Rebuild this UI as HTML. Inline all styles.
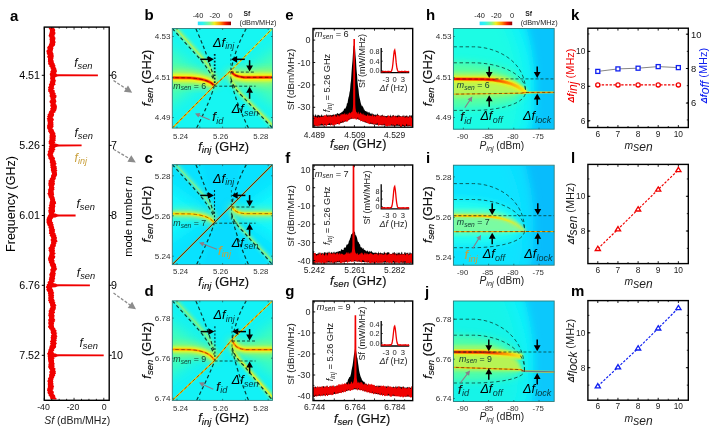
<!DOCTYPE html>
<html lang="en"><head><meta charset="utf-8"><title>Figure</title>
<style>
html,body{margin:0;padding:0;background:#fff;}
body{width:722px;height:438px;overflow:hidden;}
svg{display:block;font-family:'Liberation Sans', sans-serif;}
</style></head><body>
<svg width="722" height="438" viewBox="0 0 722 438">
<rect width="722" height="438" fill="#fff"/>
<text x="10.00" y="20.50" font-size="15" text-anchor="start" fill="#000" font-weight="bold" font-style="normal">a</text>
<polygon points="48.8,27.4 48.7,28.2 49.1,29.0 49.8,29.8 49.9,30.6 49.9,31.4 49.5,32.2 49.8,33.0 49.1,33.8 49.1,34.6 48.6,35.4 48.7,36.2 49.6,37.0 49.5,37.8 49.8,38.6 49.4,39.4 49.6,40.2 50.2,41.0 49.5,41.8 49.8,42.6 49.5,43.4 48.8,44.2 49.1,45.0 48.4,45.8 47.8,46.6 47.1,47.4 47.4,48.2 47.5,49.0 47.5,49.8 46.5,50.6 46.4,51.4 46.7,52.2 46.9,53.0 46.7,53.8 47.3,54.6 47.9,55.4 47.3,56.2 47.1,57.0 47.7,57.8 48.1,58.6 47.9,59.4 48.0,60.2 48.0,61.0 47.8,61.8 48.4,62.6 48.1,63.4 48.1,64.2 49.2,65.0 49.5,65.8 49.2,66.6 50.5,67.4 50.7,68.2 50.5,69.0 51.4,69.8 51.0,70.6 50.2,71.4 50.6,72.2 50.2,73.0 49.8,73.8 49.7,74.6 50.1,75.4 50.3,76.2 50.3,77.0 50.2,77.8 50.0,78.6 50.5,79.4 50.4,80.2 50.5,81.0 49.7,81.8 50.0,82.6 49.7,83.4 48.8,84.2 49.0,85.0 49.2,85.8 48.7,86.6 47.9,87.4 48.7,88.2 48.1,89.0 48.1,89.8 48.3,90.6 48.1,91.4 49.1,92.2 49.6,93.0 49.4,93.8 50.0,94.6 49.6,95.4 49.7,96.2 49.8,97.0 50.6,97.8 50.4,98.6 50.7,99.4 50.4,100.2 49.5,101.0 49.6,101.8 49.6,102.6 50.6,103.4 50.7,104.2 50.3,105.0 50.2,105.8 50.5,106.6 51.2,107.4 50.2,108.2 50.2,109.0 50.6,109.8 50.1,110.6 49.0,111.4 49.2,112.2 48.4,113.0 48.7,113.8 47.4,114.6 48.0,115.4 46.9,116.2 47.5,117.0 47.7,117.8 46.7,118.6 47.3,119.4 47.5,120.2 47.1,121.0 47.8,121.8 47.8,122.6 47.7,123.4 47.7,124.2 47.4,125.0 47.0,125.8 47.2,126.6 47.1,127.4 47.2,128.2 47.4,129.0 48.2,129.8 48.3,130.6 48.0,131.4 48.9,132.2 49.0,133.0 49.8,133.8 49.9,134.6 49.5,135.4 49.8,136.2 49.3,137.0 49.6,137.8 49.6,138.6 49.5,139.4 49.3,140.2 48.8,141.0 48.5,141.8 48.9,142.6 48.5,143.4 49.4,144.2 49.5,145.0 49.6,145.8 48.7,146.6 49.5,147.4 48.8,148.2 48.4,149.0 49.0,149.8 48.5,150.6 47.6,151.4 48.3,152.2 47.7,153.0 47.9,153.8 47.2,154.6 47.5,155.4 48.3,156.2 47.8,157.0 48.8,157.8 48.2,158.6 49.4,159.4 49.8,160.2 49.9,161.0 49.9,161.8 49.6,162.6 50.5,163.4 50.1,164.2 50.7,165.0 50.0,165.8 50.8,166.6 50.2,167.4 50.9,168.2 51.1,169.0 50.8,169.8 50.9,170.6 51.4,171.4 51.3,172.2 51.9,173.0 52.1,173.8 51.7,174.6 51.0,175.4 51.1,176.2 50.9,177.0 50.7,177.8 49.7,178.6 49.9,179.4 48.7,180.2 48.5,181.0 48.7,181.8 48.6,182.6 48.2,183.4 48.6,184.2 48.2,185.0 48.6,185.8 49.0,186.6 49.0,187.4 48.7,188.2 48.8,189.0 47.7,189.8 48.3,190.6 48.1,191.4 48.2,192.2 48.0,193.0 47.1,193.8 48.1,194.6 48.2,195.4 48.8,196.2 48.5,197.0 49.2,197.8 49.7,198.6 49.9,199.4 50.2,200.2 50.1,201.0 49.8,201.8 49.6,202.6 49.5,203.4 49.7,204.2 48.8,205.0 48.9,205.8 49.5,206.6 48.4,207.4 48.4,208.2 49.1,209.0 48.6,209.8 48.2,210.6 48.5,211.4 48.4,212.2 48.9,213.0 48.9,213.8 48.8,214.6 48.0,215.4 47.7,216.2 47.5,217.0 46.8,217.8 46.9,218.6 46.5,219.4 46.3,220.2 47.0,221.0 46.3,221.8 46.5,222.6 47.0,223.4 47.3,224.2 47.3,225.0 47.8,225.8 48.7,226.6 48.3,227.4 48.7,228.2 49.5,229.0 48.9,229.8 48.9,230.6 49.2,231.4 49.3,232.2 48.9,233.0 48.9,233.8 50.3,234.6 49.5,235.4 50.3,236.2 50.8,237.0 51.1,237.8 51.4,238.6 50.6,239.4 50.8,240.2 50.7,241.0 51.4,241.8 50.9,242.6 51.2,243.4 50.3,244.2 50.4,245.0 49.8,245.8 49.9,246.6 48.7,247.4 48.5,248.2 48.5,249.0 49.1,249.8 48.4,250.6 49.2,251.4 49.4,252.2 49.6,253.0 49.4,253.8 49.4,254.6 49.0,255.4 49.0,256.2 48.3,257.0 48.4,257.8 48.0,258.6 48.2,259.4 48.3,260.2 48.4,261.0 49.2,261.8 48.7,262.6 49.6,263.4 50.1,264.2 49.6,265.0 50.3,265.8 50.6,266.6 51.2,267.4 51.2,268.2 50.7,269.0 50.1,269.8 50.5,270.6 50.6,271.4 50.2,272.2 50.1,273.0 49.5,273.8 49.2,274.6 49.5,275.4 49.5,276.2 49.9,277.0 48.8,277.8 49.3,278.6 48.7,279.4 49.2,280.2 48.8,281.0 47.8,281.8 47.5,282.6 48.2,283.4 46.8,284.2 46.8,285.0 46.8,285.8 46.1,286.6 45.8,287.4 46.9,288.2 46.5,289.0 46.2,289.8 46.8,290.6 47.3,291.4 48.1,292.2 48.1,293.0 47.8,293.8 48.5,294.6 48.0,295.4 48.7,296.2 48.2,297.0 48.4,297.8 48.2,298.6 48.6,299.4 48.0,300.2 48.3,301.0 49.3,301.8 48.7,302.6 49.8,303.4 49.9,304.2 50.2,305.0 50.0,305.8 50.6,306.6 50.4,307.4 49.8,308.2 49.5,309.0 49.6,309.8 48.7,310.6 48.6,311.4 49.0,312.2 48.7,313.0 48.4,313.8 48.6,314.6 48.1,315.4 48.8,316.2 48.8,317.0 49.0,317.8 49.1,318.6 48.2,319.4 48.4,320.2 48.1,321.0 48.9,321.8 48.2,322.6 48.2,323.4 48.5,324.2 48.7,325.0 48.6,325.8 48.0,326.6 48.2,327.4 49.2,328.2 49.0,329.0 50.4,329.8 50.4,330.6 51.0,331.4 50.4,332.2 51.2,333.0 50.9,333.8 51.9,334.6 50.8,335.4 50.9,336.2 51.2,337.0 50.3,337.8 51.0,338.6 50.8,339.4 51.1,340.2 50.0,341.0 49.9,341.8 50.8,342.6 49.9,343.4 50.6,344.2 50.4,345.0 49.7,345.8 49.6,346.6 49.3,347.4 49.2,348.2 49.1,349.0 48.2,349.8 48.5,350.6 48.1,351.4 48.1,352.2 47.6,353.0 46.9,353.8 47.6,354.6 47.9,355.4 47.4,356.2 48.1,357.0 47.9,357.8 47.9,358.6 48.1,359.4 48.0,360.2 48.4,361.0 48.2,361.8 48.7,362.6 48.8,363.4 48.3,364.2 48.5,365.0 48.4,365.8 48.2,366.6 48.2,367.4 49.0,368.2 48.8,369.0 50.0,369.8 50.2,370.6 49.3,371.4 49.4,372.2 49.4,373.0 50.0,373.8 49.0,374.6 49.1,375.4 49.2,376.2 49.0,377.0 48.5,377.8 47.8,378.6 48.3,379.4 47.4,380.2 47.8,381.0 47.2,381.8 48.1,382.6 47.8,383.4 47.5,384.2 48.1,385.0 47.8,385.8 47.9,386.6 47.8,387.4 47.6,388.2 46.9,389.0 47.4,389.8 46.9,390.6 47.8,391.4 47.4,392.2 47.7,393.0 47.9,393.8 48.8,394.6 48.5,395.4 49.6,396.2 49.7,397.0 50.3,397.8 50.2,398.6 50.9,399.4 56.3,399.4 56.7,398.6 55.5,397.8 55.4,397.0 55.2,396.2 55.1,395.4 54.2,394.6 53.3,393.8 54.0,393.0 53.7,392.2 53.7,391.4 52.7,390.6 52.7,389.8 53.9,389.0 53.2,388.2 53.6,387.4 54.2,386.6 53.3,385.8 53.9,385.0 53.0,384.2 53.6,383.4 52.9,382.6 53.5,381.8 53.0,381.0 53.1,380.2 53.4,379.4 53.4,378.6 54.3,377.8 54.0,377.0 54.6,376.2 55.3,375.4 54.8,374.6 56.0,373.8 55.7,373.0 55.6,372.2 55.9,371.4 55.2,370.6 55.1,369.8 55.7,369.0 55.3,368.2 54.1,367.4 54.7,366.6 54.0,365.8 55.0,365.0 54.0,364.2 54.8,363.4 54.0,362.6 53.9,361.8 54.2,361.0 54.0,360.2 53.7,359.4 54.6,358.6 54.2,357.8 53.6,357.0 53.4,356.2 53.4,355.4 52.7,354.6 53.9,353.8 54.0,353.0 53.5,352.2 53.1,351.4 54.4,350.6 53.8,349.8 54.6,349.0 55.0,348.2 56.0,347.4 56.2,346.6 55.7,345.8 56.3,345.0 56.0,344.2 57.0,343.4 56.3,342.6 55.7,341.8 56.6,341.0 56.8,340.2 56.2,339.4 56.9,338.6 56.9,337.8 56.6,337.0 57.6,336.2 56.8,335.4 56.6,334.6 56.5,333.8 57.5,333.0 56.1,332.2 56.3,331.4 56.7,330.6 55.7,329.8 55.2,329.0 55.4,328.2 54.2,327.4 53.9,326.6 54.1,325.8 53.5,325.0 54.0,324.2 54.1,323.4 53.7,322.6 55.1,321.8 54.3,321.0 55.3,320.2 55.1,319.4 54.4,318.6 53.8,317.8 55.0,317.0 54.1,316.2 54.8,315.4 54.1,314.6 53.8,313.8 55.0,313.0 55.0,312.2 54.5,311.4 54.9,310.6 55.1,309.8 56.1,309.0 55.5,308.2 56.0,307.4 55.5,306.6 56.7,305.8 55.6,305.0 56.0,304.2 54.8,303.4 55.5,302.6 54.6,301.8 54.6,301.0 54.7,300.2 54.2,299.4 53.5,298.6 53.8,297.8 54.2,297.0 53.5,296.2 54.3,295.4 53.6,294.6 53.6,293.8 54.3,293.0 53.8,292.2 53.3,291.4 53.3,290.6 53.0,289.8 52.7,289.0 51.9,288.2 52.0,287.4 52.9,286.6 53.2,285.8 52.1,285.0 53.1,284.2 53.8,283.4 53.2,282.6 54.7,281.8 54.5,281.0 54.5,280.2 54.6,279.4 55.3,278.6 54.7,277.8 55.0,277.0 55.1,276.2 55.4,275.4 55.3,274.6 56.1,273.8 55.3,273.0 55.3,272.2 55.5,271.4 55.8,270.6 57.2,269.8 56.3,269.0 57.3,268.2 56.2,267.4 56.4,266.6 56.1,265.8 55.8,265.0 56.1,264.2 55.2,263.4 54.6,262.6 54.2,261.8 54.8,261.0 54.4,260.2 53.8,259.4 54.5,258.6 55.1,257.8 55.1,257.0 55.4,256.2 54.4,255.4 54.6,254.6 55.6,253.8 55.5,253.0 54.4,252.2 54.8,251.4 55.0,250.6 54.7,249.8 54.5,249.0 55.2,248.2 54.5,247.4 55.6,246.6 56.0,245.8 55.6,245.0 55.9,244.2 56.5,243.4 56.1,242.6 57.5,241.8 57.4,241.0 57.1,240.2 56.5,239.4 56.9,238.6 56.8,237.8 57.0,237.0 55.8,236.2 56.5,235.4 55.5,234.6 56.0,233.8 54.8,233.0 54.6,232.2 55.0,231.4 54.7,230.6 55.2,229.8 54.5,229.0 54.0,228.2 54.2,227.4 53.9,226.6 53.3,225.8 53.7,225.0 53.5,224.2 52.7,223.4 53.3,222.6 52.1,221.8 52.1,221.0 52.1,220.2 52.0,219.4 52.9,218.6 53.4,217.8 52.7,217.0 54.0,216.2 54.2,215.4 54.7,214.6 54.2,213.8 53.8,213.0 54.8,212.2 55.1,211.4 55.0,210.6 55.0,209.8 54.6,209.0 55.0,208.2 54.9,207.4 55.4,206.6 55.3,205.8 54.8,205.0 55.3,204.2 56.2,203.4 56.0,202.6 55.8,201.8 55.4,201.0 54.9,200.2 55.2,199.4 54.7,198.6 54.7,197.8 54.4,197.0 53.9,196.2 53.6,195.4 54.3,194.6 53.7,193.8 54.2,193.0 53.6,192.2 53.7,191.4 53.6,190.6 54.3,189.8 54.7,189.0 53.8,188.2 54.7,187.4 53.8,186.6 54.1,185.8 54.5,185.0 54.8,184.2 55.0,183.4 54.4,182.6 55.0,181.8 54.7,181.0 54.6,180.2 55.4,179.4 55.9,178.6 55.6,177.8 56.0,177.0 56.5,176.2 56.9,175.4 57.1,174.6 57.0,173.8 56.9,173.0 56.9,172.2 56.5,171.4 57.5,170.6 56.4,169.8 57.0,169.0 56.8,168.2 56.6,167.4 56.8,166.6 56.0,165.8 55.5,165.0 56.4,164.2 56.6,163.4 55.6,162.6 56.3,161.8 55.0,161.0 55.6,160.2 54.5,159.4 55.1,158.6 54.8,157.8 53.9,157.0 53.4,156.2 53.4,155.4 52.7,154.6 53.2,153.8 53.4,153.0 53.7,152.2 54.5,151.4 54.3,150.6 55.2,149.8 55.4,149.0 54.4,148.2 55.3,147.4 55.5,146.6 55.2,145.8 54.5,145.0 54.8,144.2 54.3,143.4 55.5,142.6 54.5,141.8 55.5,141.0 55.8,140.2 55.4,139.4 55.7,138.6 55.6,137.8 55.6,137.0 56.1,136.2 55.7,135.4 55.2,134.6 55.4,133.8 55.4,133.0 54.6,132.2 54.3,131.4 53.8,130.6 53.9,129.8 52.8,129.0 52.4,128.2 53.0,127.4 53.6,126.6 53.6,125.8 53.0,125.0 53.8,124.2 53.2,123.4 53.5,122.6 53.1,121.8 53.0,121.0 53.8,120.2 53.9,119.4 53.4,118.6 52.5,117.8 53.3,117.0 53.5,116.2 54.0,115.4 54.2,114.6 53.7,113.8 54.1,113.0 55.6,112.2 55.3,111.4 56.2,110.6 56.5,109.8 56.4,109.0 56.9,108.2 56.8,107.4 57.0,106.6 56.5,105.8 56.9,105.0 55.8,104.2 55.7,103.4 55.8,102.6 56.7,101.8 55.9,101.0 56.3,100.2 55.7,99.4 55.4,98.6 56.2,97.8 56.4,97.0 56.5,96.2 56.6,95.4 55.3,94.6 55.8,93.8 55.5,93.0 54.6,92.2 54.7,91.4 54.9,90.6 53.4,89.8 53.5,89.0 54.7,88.2 53.7,87.4 54.0,86.6 54.1,85.8 54.9,85.0 55.9,84.2 54.9,83.4 55.4,82.6 55.2,81.8 56.3,81.0 55.6,80.2 55.3,79.4 55.1,78.6 55.2,77.8 55.1,77.0 56.0,76.2 55.7,75.4 56.4,74.6 56.6,73.8 55.7,73.0 56.7,72.2 56.9,71.4 56.8,70.6 56.6,69.8 56.2,69.0 56.3,68.2 55.6,67.4 55.1,66.6 55.8,65.8 54.7,65.0 54.9,64.2 54.6,63.4 53.7,62.6 54.1,61.8 53.1,61.0 53.8,60.2 52.9,59.4 53.4,58.6 53.7,57.8 53.1,57.0 54.1,56.2 53.6,55.4 53.4,54.6 53.7,53.8 52.9,53.0 52.9,52.2 52.5,51.4 52.8,50.6 53.0,49.8 53.0,49.0 53.6,48.2 53.0,47.4 53.7,46.6 54.9,45.8 54.8,45.0 55.3,44.2 55.0,43.4 55.6,42.6 55.5,41.8 55.2,41.0 54.9,40.2 55.3,39.4 55.4,38.6 55.6,37.8 54.6,37.0 54.8,36.2 54.4,35.4 54.9,34.6 55.8,33.8 54.8,33.0 55.7,32.2 54.7,31.4 55.2,30.6 55.2,29.8 54.8,29.0 54.2,28.2 54.0,27.4" fill="#f00000"/>
<path d="M 52 73.10 L 55.5 73.40 Q 57 74.20 59 74.30 L 97.90 74.40 L 97.90 76.20 L 59 76.30 Q 57 76.40 55.5 77.20 L 52 77.50 Z" fill="#f00000" stroke="none" stroke-width="1"/>
<path d="M 52 143.20 L 55.5 143.50 Q 57 144.30 59 144.40 L 81.60 144.50 L 81.60 146.30 L 59 146.40 Q 57 146.50 55.5 147.30 L 52 147.60 Z" fill="#f00000" stroke="none" stroke-width="1"/>
<path d="M 52 213.30 L 55.5 213.60 Q 57 214.40 59 214.50 L 75.60 214.60 L 75.60 216.40 L 59 216.50 Q 57 216.60 55.5 217.40 L 52 217.70 Z" fill="#f00000" stroke="none" stroke-width="1"/>
<path d="M 52 283.10 L 55.5 283.40 Q 57 284.20 59 284.30 L 89.90 284.40 L 89.90 286.20 L 59 286.30 Q 57 286.40 55.5 287.20 L 52 287.50 Z" fill="#f00000" stroke="none" stroke-width="1"/>
<path d="M 52 353.10 L 55.5 353.40 Q 57 354.20 59 354.30 L 103.70 354.40 L 103.70 356.20 L 59 356.30 Q 57 356.40 55.5 357.20 L 52 357.50 Z" fill="#f00000" stroke="none" stroke-width="1"/>
<rect x="44.30" y="27.10" width="64.90" height="373.20" fill="none" stroke="#000" stroke-width="1.4"/>
<line x1="41.80" y1="75.30" x2="44.30" y2="75.30" stroke="#000" stroke-width="1"/>
<line x1="109.20" y1="75.30" x2="111.70" y2="75.30" stroke="#000" stroke-width="1"/>
<text x="40.00" y="79.10" font-size="10.7" text-anchor="end" fill="#000" font-weight="normal" font-style="normal">4.51</text>
<text x="111.00" y="79.10" font-size="10.7" text-anchor="start" fill="#000" font-weight="normal" font-style="normal">6</text>
<line x1="41.80" y1="145.40" x2="44.30" y2="145.40" stroke="#000" stroke-width="1"/>
<line x1="109.20" y1="145.40" x2="111.70" y2="145.40" stroke="#000" stroke-width="1"/>
<text x="40.00" y="149.20" font-size="10.7" text-anchor="end" fill="#000" font-weight="normal" font-style="normal">5.26</text>
<text x="111.00" y="149.20" font-size="10.7" text-anchor="start" fill="#000" font-weight="normal" font-style="normal">7</text>
<line x1="41.80" y1="215.50" x2="44.30" y2="215.50" stroke="#000" stroke-width="1"/>
<line x1="109.20" y1="215.50" x2="111.70" y2="215.50" stroke="#000" stroke-width="1"/>
<text x="40.00" y="219.30" font-size="10.7" text-anchor="end" fill="#000" font-weight="normal" font-style="normal">6.01</text>
<text x="111.00" y="219.30" font-size="10.7" text-anchor="start" fill="#000" font-weight="normal" font-style="normal">8</text>
<line x1="41.80" y1="285.30" x2="44.30" y2="285.30" stroke="#000" stroke-width="1"/>
<line x1="109.20" y1="285.30" x2="111.70" y2="285.30" stroke="#000" stroke-width="1"/>
<text x="40.00" y="289.10" font-size="10.7" text-anchor="end" fill="#000" font-weight="normal" font-style="normal">6.76</text>
<text x="111.00" y="289.10" font-size="10.7" text-anchor="start" fill="#000" font-weight="normal" font-style="normal">9</text>
<line x1="41.80" y1="355.30" x2="44.30" y2="355.30" stroke="#000" stroke-width="1"/>
<line x1="109.20" y1="355.30" x2="111.70" y2="355.30" stroke="#000" stroke-width="1"/>
<text x="40.00" y="359.10" font-size="10.7" text-anchor="end" fill="#000" font-weight="normal" font-style="normal">7.52</text>
<text x="111.00" y="359.10" font-size="10.7" text-anchor="start" fill="#000" font-weight="normal" font-style="normal">10</text>
<line x1="44.30" y1="400.30" x2="44.30" y2="397.80" stroke="#000" stroke-width="0.8"/>
<line x1="44.30" y1="27.10" x2="44.30" y2="29.60" stroke="#000" stroke-width="0.8"/>
<line x1="51.74" y1="400.30" x2="51.74" y2="398.80" stroke="#000" stroke-width="0.8"/>
<line x1="51.74" y1="27.10" x2="51.74" y2="28.60" stroke="#000" stroke-width="0.8"/>
<line x1="59.17" y1="400.30" x2="59.17" y2="398.80" stroke="#000" stroke-width="0.8"/>
<line x1="59.17" y1="27.10" x2="59.17" y2="28.60" stroke="#000" stroke-width="0.8"/>
<line x1="66.61" y1="400.30" x2="66.61" y2="398.80" stroke="#000" stroke-width="0.8"/>
<line x1="66.61" y1="27.10" x2="66.61" y2="28.60" stroke="#000" stroke-width="0.8"/>
<line x1="74.05" y1="400.30" x2="74.05" y2="397.80" stroke="#000" stroke-width="0.8"/>
<line x1="74.05" y1="27.10" x2="74.05" y2="29.60" stroke="#000" stroke-width="0.8"/>
<line x1="81.49" y1="400.30" x2="81.49" y2="398.80" stroke="#000" stroke-width="0.8"/>
<line x1="81.49" y1="27.10" x2="81.49" y2="28.60" stroke="#000" stroke-width="0.8"/>
<line x1="88.92" y1="400.30" x2="88.92" y2="398.80" stroke="#000" stroke-width="0.8"/>
<line x1="88.92" y1="27.10" x2="88.92" y2="28.60" stroke="#000" stroke-width="0.8"/>
<line x1="96.36" y1="400.30" x2="96.36" y2="398.80" stroke="#000" stroke-width="0.8"/>
<line x1="96.36" y1="27.10" x2="96.36" y2="28.60" stroke="#000" stroke-width="0.8"/>
<line x1="103.80" y1="400.30" x2="103.80" y2="397.80" stroke="#000" stroke-width="0.8"/>
<line x1="103.80" y1="27.10" x2="103.80" y2="29.60" stroke="#000" stroke-width="0.8"/>
<text x="43.50" y="410.20" font-size="8.8" text-anchor="middle" fill="#222" font-weight="normal" font-style="normal">-40</text>
<text x="73.00" y="410.20" font-size="8.8" text-anchor="middle" fill="#222" font-weight="normal" font-style="normal">-20</text>
<text x="104.20" y="410.20" font-size="8.8" text-anchor="middle" fill="#222" font-weight="normal" font-style="normal">0</text>
<text x="77.20" y="423.60" font-size="10.5" text-anchor="middle" fill="#222" font-weight="normal" font-style="normal"><tspan font-style="italic">Sf</tspan> (dBm/MHz)</text>
<text x="15.00" y="204.00" font-size="12.5" text-anchor="middle" fill="#000" font-weight="normal" font-style="normal" transform="rotate(-90 15.00 204.00)">Frequency (GHz)</text>
<text x="132.40" y="216.40" font-size="11.1" text-anchor="middle" fill="#000" font-weight="normal" font-style="normal" transform="rotate(-90 132.40 216.40)">mode number <tspan font-style="italic">m</tspan></text>
<text x="74.20" y="66.50" font-size="12" text-anchor="start" fill="#111" font-weight="normal" font-style="normal"><tspan font-style="italic">f</tspan><tspan font-style="italic" font-size="9.3" dy="2.4">sen</tspan></text>
<text x="74.50" y="136.80" font-size="12" text-anchor="start" fill="#111" font-weight="normal" font-style="normal"><tspan font-style="italic">f</tspan><tspan font-style="italic" font-size="9.3" dy="2.4">sen</tspan></text>
<text x="76.50" y="207.50" font-size="12" text-anchor="start" fill="#111" font-weight="normal" font-style="normal"><tspan font-style="italic">f</tspan><tspan font-style="italic" font-size="9.3" dy="2.4">sen</tspan></text>
<text x="76.80" y="276.50" font-size="12" text-anchor="start" fill="#111" font-weight="normal" font-style="normal"><tspan font-style="italic">f</tspan><tspan font-style="italic" font-size="9.3" dy="2.4">sen</tspan></text>
<text x="79.50" y="347.00" font-size="12" text-anchor="start" fill="#111" font-weight="normal" font-style="normal"><tspan font-style="italic">f</tspan><tspan font-style="italic" font-size="9.3" dy="2.4">sen</tspan></text>
<text x="74.60" y="161.50" font-size="12" text-anchor="start" fill="#c9a03c" font-weight="normal" font-style="normal"><tspan font-style="italic">f</tspan><tspan font-style="italic" font-size="9.0" dy="2.3">inj</tspan></text>
<line x1="113.50" y1="80.50" x2="126.35" y2="88.95" stroke="#8c8c8c" stroke-width="1.3" stroke-dasharray="3 1.6"/>
<polygon points="132.20,92.80 123.85,91.85 128.02,85.50" fill="#8c8c8c"/>
<line x1="113.50" y1="149.20" x2="129.78" y2="158.83" stroke="#8c8c8c" stroke-width="1.3" stroke-dasharray="3 1.6"/>
<polygon points="135.80,162.40 127.41,161.85 131.28,155.31" fill="#8c8c8c"/>
<line x1="113.50" y1="293.00" x2="130.33" y2="305.19" stroke="#8c8c8c" stroke-width="1.3" stroke-dasharray="3 1.6"/>
<polygon points="136.00,309.30 127.70,307.98 132.16,301.82" fill="#8c8c8c"/>
<defs>
<filter id="bl1" x="-50%" y="-50%" width="200%" height="200%"><feGaussianBlur stdDeviation="0.7"/></filter>
<filter id="bl2" x="-50%" y="-50%" width="200%" height="200%"><feGaussianBlur stdDeviation="1.8"/></filter>
<filter id="bl4" x="-50%" y="-50%" width="200%" height="200%"><feGaussianBlur stdDeviation="4"/></filter>
<filter id="bl8" x="-50%" y="-50%" width="200%" height="200%"><feGaussianBlur stdDeviation="8"/></filter>
<linearGradient id="cbar" x1="0" x2="1" y1="0" y2="0">
<stop offset="0" stop-color="#30e0ff"/><stop offset="0.15" stop-color="#30f4f0"/><stop offset="0.35" stop-color="#80f890"/>
<stop offset="0.5" stop-color="#f0f020"/><stop offset="0.68" stop-color="#ff9000"/><stop offset="0.85" stop-color="#f01000"/><stop offset="1" stop-color="#900000"/>
</linearGradient>
</defs>
<rect x="197.80" y="21.60" width="33.20" height="3.60" fill="url(#cbar)" stroke="none" stroke-width="1"/>
<text x="198.00" y="17.80" font-size="7.4" text-anchor="middle" fill="#222" font-weight="normal" font-style="normal">-40</text>
<text x="214.80" y="17.80" font-size="7.4" text-anchor="middle" fill="#222" font-weight="normal" font-style="normal">-20</text>
<text x="230.60" y="17.80" font-size="7.4" text-anchor="middle" fill="#222" font-weight="normal" font-style="normal">0</text>
<text x="243.40" y="16.00" font-size="6.8" text-anchor="start" fill="#222" font-weight="bold" font-style="normal">Sf</text>
<text x="239.60" y="24.90" font-size="7.3" text-anchor="start" fill="#222" font-weight="normal" font-style="normal">(dBm/MHz)</text>
<clipPath id="clip1"><rect x="172.3" y="28.5" width="100.19999999999999" height="99.6"/></clipPath>
<g clip-path="url(#clip1)">
<rect x="172.30" y="28.50" width="100.20" height="99.60" fill="#16f6f2" stroke="none" stroke-width="1"/>
<g filter="url(#bl8)" opacity="0.9">
<path d="M 147.3 35.44999999999999 L 208.2 77.44999999999999 L 147.3 119.44999999999999 Z" fill="#54ffa4" stroke="none" stroke-width="1"/>
<path d="M 297.5 35.44999999999999 L 236.8 77.44999999999999 L 297.5 119.44999999999999 Z" fill="#54ffa4" stroke="none" stroke-width="1"/>
</g>
<g filter="url(#bl2)">
<path d="M 175.8 28.5 L 202.60000000000002 58.0 Q 213.3 71.5 214.2 79.8" fill="none" stroke="#b8f850" stroke-width="4.5" opacity="0.65"/>
<path d="M 230.8 76.7 Q 233.3 86.7 243.4 96.4 L 274.0 126.6" fill="none" stroke="#b8f850" stroke-width="4.5" opacity="0.7"/>
</g>
<g filter="url(#bl1)">
<path d="M 175.8 28.5 L 202.60000000000002 58.0 Q 213.3 71.5 214.2 79.8" fill="none" stroke="#f0f020" stroke-width="1.4" opacity="0.4"/>
<path d="M 230.8 76.7 Q 233.3 86.7 243.4 96.4 L 274.0 126.6" fill="none" stroke="#f0f020" stroke-width="1.4" opacity="0.45"/>
</g>
<g filter="url(#bl4)" opacity="0.95">
<path d="M 169.3 77.6 L 190.2 77.89999999999999 Q 209.2 79.19999999999999 213.89999999999998 85.5" fill="none" stroke="#b8f850" stroke-width="14.0"/>
<path d="M 231.10000000000002 71.0 Q 233.3 76.5 243.8 77.3 L 275.5 77.3" fill="none" stroke="#b8f850" stroke-width="14.0"/>
</g>
<g filter="url(#bl2)">
<path d="M 169.3 77.6 L 190.2 77.89999999999999 Q 209.2 79.19999999999999 213.89999999999998 85.5" fill="none" stroke="#f8f418" stroke-width="7.5"/>
<path d="M 231.10000000000002 71.0 Q 233.3 76.5 243.8 77.3 L 275.5 77.3" fill="none" stroke="#f8f418" stroke-width="7.5"/>
</g>
<g filter="url(#bl1)">
<path d="M 169.3 77.6 L 190.2 77.89999999999999 Q 209.2 79.19999999999999 213.89999999999998 85.5" fill="none" stroke="#ff8a00" stroke-width="3.3"/>
<path d="M 231.10000000000002 71.0 Q 233.3 76.5 243.8 77.3 L 275.5 77.3" fill="none" stroke="#ff8a00" stroke-width="3.3"/>
<path d="M 169.3 77.6 L 190.2 77.89999999999999 Q 209.2 79.19999999999999 213.89999999999998 85.5" fill="none" stroke="#f01800" stroke-width="1.8"/>
<path d="M 231.10000000000002 71.0 Q 233.3 76.5 243.8 77.3 L 275.5 77.3" fill="none" stroke="#f01800" stroke-width="1.8"/>
</g>
<path d="M 169.3 77.6 L 190.2 77.89999999999999 Q 209.2 79.19999999999999 213.89999999999998 85.5" fill="none" stroke="#7a0000" stroke-width="1.0" stroke-dasharray="3.5 2.5" opacity="0.75"/>
<path d="M 231.10000000000002 71.0 Q 233.3 76.5 243.8 77.3 L 275.5 77.3" fill="none" stroke="#7a0000" stroke-width="1.0" stroke-dasharray="3.5 2.5" opacity="0.75"/>
<path d="M 172.3 128.1 L 214.2 85.8 L 230.8 70.7" fill="none" stroke="#e8e020" stroke-width="1.5"/>
<path d="M 172.3 128.1 L 214.2 85.8 L 230.8 70.7" fill="none" stroke="#f08a00" stroke-width="0.9"/>
<path d="M 230.8 70.7 L 272.5 28.5" fill="none" stroke="#d8f040" stroke-width="1.5"/>
<path d="M 230.8 70.7 L 272.5 28.5" fill="none" stroke="#e0d820" stroke-width="0.8"/>
<path d="M 172.3 128.1 L 214.2 85.8 L 230.8 70.7 L 272.5 28.5" fill="none" stroke="#4a3000" stroke-width="0.8" stroke-dasharray="3 2.6" opacity="0.8"/>
<path d="M 172.3 28.5 L 199.10000000000002 58.0 Q 210.3 71.5 213.7 79.8" fill="none" stroke="#062a24" stroke-width="1.2" stroke-dasharray="3.5 2.6" opacity="0.9"/>
<path d="M 231.10000000000002 78.7 Q 232.8 87.7 242.4 96.4 L 272.5 128.1" fill="none" stroke="#062a24" stroke-width="1.2" stroke-dasharray="3.5 2.6" opacity="0.9"/>
<path d="M 195.8 28.5 Q 208.3 56.5 213.79999999999998 77.8" fill="none" stroke="#062a24" stroke-width="1.2" stroke-dasharray="3.5 2.6" opacity="0.9"/>
<path d="M 196.60000000000002 128.1 Q 210.3 100.5 214.0 86.8" fill="none" stroke="#062a24" stroke-width="1.2" stroke-dasharray="3.5 2.6" opacity="0.9"/>
<path d="M 246.3 28.5 Q 235.3 48.7 231.10000000000002 69.7" fill="none" stroke="#062a24" stroke-width="1.2" stroke-dasharray="3.5 2.6" opacity="0.9"/>
<path d="M 248.5 128.1 Q 235.8 102.7 231.20000000000002 80.7" fill="none" stroke="#062a24" stroke-width="1.2" stroke-dasharray="3.5 2.6" opacity="0.9"/>
</g>
<line x1="214.70" y1="54.00" x2="214.70" y2="85.80" stroke="#062a30" stroke-width="1.7" stroke-dasharray="1.7 1.7"/>
<line x1="230.80" y1="54.00" x2="230.80" y2="86.70" stroke="#0a4a40" stroke-width="0.9" stroke-dasharray="2.5 2" opacity="0.8"/>
<line x1="230.80" y1="72.10" x2="255.60" y2="72.10" stroke="#0a3a30" stroke-width="0.9" stroke-dasharray="3 2"/>
<line x1="214.20" y1="86.20" x2="255.60" y2="86.20" stroke="#0a3a30" stroke-width="0.9" stroke-dasharray="3 2"/>
<line x1="200.20" y1="59.30" x2="208.40" y2="59.30" stroke="#000" stroke-width="1.5"/>
<polygon points="213.90,59.30 207.90,62.70 207.90,55.90" fill="#000"/>
<line x1="244.80" y1="59.30" x2="236.60" y2="59.30" stroke="#000" stroke-width="1.5"/>
<polygon points="231.10,59.30 237.10,55.90 237.10,62.70" fill="#000"/>
<line x1="249.60" y1="60.20" x2="249.60" y2="66.00" stroke="#000" stroke-width="1.5"/>
<polygon points="249.60,71.50 246.20,65.50 253.00,65.50" fill="#000"/>
<line x1="249.60" y1="98.80" x2="249.60" y2="92.30" stroke="#000" stroke-width="1.5"/>
<polygon points="249.60,86.80 253.00,92.80 246.20,92.80" fill="#000"/>
<rect x="172.30" y="28.50" width="100.20" height="99.60" fill="none" stroke="#2a7c7c" stroke-width="0.9"/>
<text x="213.10" y="46.50" font-size="12.6" text-anchor="start" fill="#000" font-weight="normal" font-style="normal"><tspan font-style="italic" >Δf</tspan><tspan font-style="italic" font-size="9.0" dx="0.3" dy="2.8" fill="#06383c">inj</tspan></text>
<text x="173.30" y="88.60" font-size="8.8" text-anchor="start" fill="#103830" font-weight="normal" font-style="normal"><tspan font-style="italic">m</tspan><tspan font-style="italic" font-size="6.6" dy="1.7">sen</tspan><tspan dy="-1.7"> = 6</tspan></text>
<text x="231.70" y="113.00" font-size="12.6" text-anchor="start" fill="#000" font-weight="normal" font-style="normal"><tspan font-style="italic" >Δf</tspan><tspan font-style="italic" font-size="9.0" dx="0.3" dy="2.8" fill="#06383c">sen</tspan></text>
<text x="212.30" y="121.00" font-size="13.0" text-anchor="start" fill="#111" font-weight="normal" font-style="normal"><tspan font-style="italic" stroke="#111" stroke-width="0.15">f</tspan><tspan font-style="italic" font-size="9.2" dx="0.3" dy="2.6" fill="#06383c">id</tspan></text>
<line x1="209.60" y1="119.80" x2="198.94" y2="115.13" stroke="#8a7f88" stroke-width="1.1"/>
<polygon points="195.00,113.40 200.40,113.04 198.39,117.62" fill="#8a7f88"/>
<text x="170.40" y="39.30" font-size="8.1" text-anchor="end" fill="#333" font-weight="normal" font-style="normal">4.53</text>
<line x1="172.30" y1="36.50" x2="173.80" y2="36.50" stroke="#1a5050" stroke-width="0.7"/>
<line x1="272.50" y1="36.50" x2="271.00" y2="36.50" stroke="#1a5050" stroke-width="0.7"/>
<text x="170.40" y="80.40" font-size="8.1" text-anchor="end" fill="#333" font-weight="normal" font-style="normal">4.51</text>
<line x1="172.30" y1="77.60" x2="173.80" y2="77.60" stroke="#1a5050" stroke-width="0.7"/>
<line x1="272.50" y1="77.60" x2="271.00" y2="77.60" stroke="#1a5050" stroke-width="0.7"/>
<text x="170.40" y="120.30" font-size="8.1" text-anchor="end" fill="#333" font-weight="normal" font-style="normal">4.49</text>
<line x1="172.30" y1="117.50" x2="173.80" y2="117.50" stroke="#1a5050" stroke-width="0.7"/>
<line x1="272.50" y1="117.50" x2="271.00" y2="117.50" stroke="#1a5050" stroke-width="0.7"/>
<text x="180.60" y="138.90" font-size="7.8" text-anchor="middle" fill="#333" font-weight="normal" font-style="normal">5.24</text>
<text x="220.70" y="138.90" font-size="7.8" text-anchor="middle" fill="#333" font-weight="normal" font-style="normal">5.26</text>
<text x="260.80" y="138.90" font-size="7.8" text-anchor="middle" fill="#333" font-weight="normal" font-style="normal">5.28</text>
<line x1="177.00" y1="128.10" x2="177.00" y2="126.60" stroke="#1a5050" stroke-width="0.7"/>
<line x1="177.00" y1="28.50" x2="177.00" y2="30.00" stroke="#1a5050" stroke-width="0.7"/>
<line x1="199.80" y1="128.10" x2="199.80" y2="126.60" stroke="#1a5050" stroke-width="0.7"/>
<line x1="199.80" y1="28.50" x2="199.80" y2="30.00" stroke="#1a5050" stroke-width="0.7"/>
<line x1="222.60" y1="128.10" x2="222.60" y2="126.60" stroke="#1a5050" stroke-width="0.7"/>
<line x1="222.60" y1="28.50" x2="222.60" y2="30.00" stroke="#1a5050" stroke-width="0.7"/>
<line x1="245.40" y1="128.10" x2="245.40" y2="126.60" stroke="#1a5050" stroke-width="0.7"/>
<line x1="245.40" y1="28.50" x2="245.40" y2="30.00" stroke="#1a5050" stroke-width="0.7"/>
<line x1="268.20" y1="128.10" x2="268.20" y2="126.60" stroke="#1a5050" stroke-width="0.7"/>
<line x1="268.20" y1="28.50" x2="268.20" y2="30.00" stroke="#1a5050" stroke-width="0.7"/>
<text x="223.70" y="150.60" font-size="12.8" text-anchor="middle" fill="#111" font-weight="normal" font-style="normal" stroke="#000" stroke-width="0.15"><tspan font-style="italic">f</tspan><tspan font-style="italic" font-size="9.6" dy="2.6">inj</tspan><tspan font-style="normal" dy="-2.6"> (GHz)</tspan></text>
<text x="150.60" y="78.00" font-size="12.8" text-anchor="middle" fill="#111" font-weight="normal" font-style="normal" transform="rotate(-90 150.60 78.00)" stroke="#000" stroke-width="0.15"><tspan font-style="italic">f</tspan><tspan font-style="italic" font-size="9.6" dy="2.6">sen</tspan><tspan font-style="normal" dy="-2.6"> (GHz)</tspan></text>
<text x="144.60" y="20.20" font-size="15" text-anchor="start" fill="#000" font-weight="bold" font-style="normal">b</text>
<clipPath id="clip2"><rect x="172.3" y="164.6" width="100.19999999999999" height="100.0"/></clipPath>
<g clip-path="url(#clip2)">
<rect x="172.30" y="164.60" width="100.20" height="100.00" fill="#08e2ff" stroke="none" stroke-width="1"/>
<g filter="url(#bl8)" opacity="0.9">
<path d="M 147.3 171.6 L 208.2 213.6 L 147.3 255.6 Z" fill="#14fcfc" stroke="none" stroke-width="1"/>
<path d="M 297.5 171.6 L 237.4 213.6 L 297.5 255.6 Z" fill="#14fcfc" stroke="none" stroke-width="1"/>
</g>
<g filter="url(#bl2)" opacity="0.16">
<path d="M 202.3 159.6 L 242.3 159.6 L 231.4 201.6 L 231.4 219.6 L 242.3 269.6 L 202.3 269.6 L 214.2 226.8 L 214.2 208.8 Z" fill="#10c0ff" stroke="none" stroke-width="1"/>
</g>
<g filter="url(#bl2)">
<path d="M 175.8 164.6 L 202.60000000000002 194.1 Q 213.3 207.6 214.2 216.8" fill="none" stroke="#78f8a0" stroke-width="4.5" opacity="0.65"/>
<path d="M 231.4 211.6 Q 233.9 221.6 244.0 231.29999999999998 L 274.0 263.1" fill="none" stroke="#78f8a0" stroke-width="4.5" opacity="0.7"/>
</g>
<g filter="url(#bl1)">
<path d="M 175.8 164.6 L 202.60000000000002 194.1 Q 213.3 207.6 214.2 216.8" fill="none" stroke="#c0f040" stroke-width="1.4" opacity="0.4"/>
<path d="M 231.4 211.6 Q 233.9 221.6 244.0 231.29999999999998 L 274.0 263.1" fill="none" stroke="#c0f040" stroke-width="1.4" opacity="0.45"/>
</g>
<g filter="url(#bl4)" opacity="0.95">
<path d="M 169.3 213.6 L 190.2 213.9 Q 209.2 215.2 213.89999999999998 222.5" fill="none" stroke="#78f8a0" stroke-width="8.68"/>
<path d="M 231.70000000000002 205.9 Q 233.9 212.79999999999998 244.4 213.6 L 275.5 213.6" fill="none" stroke="#78f8a0" stroke-width="8.68"/>
</g>
<g filter="url(#bl2)">
<path d="M 169.3 213.6 L 190.2 213.9 Q 209.2 215.2 213.89999999999998 222.5" fill="none" stroke="#c8f048" stroke-width="4.65"/>
<path d="M 231.70000000000002 205.9 Q 233.9 212.79999999999998 244.4 213.6 L 275.5 213.6" fill="none" stroke="#c8f048" stroke-width="4.65"/>
</g>
<g filter="url(#bl1)">
<path d="M 169.3 213.6 L 190.2 213.9 Q 209.2 215.2 213.89999999999998 222.5" fill="none" stroke="#f4ec10" stroke-width="2.046"/>
<path d="M 231.70000000000002 205.9 Q 233.9 212.79999999999998 244.4 213.6 L 275.5 213.6" fill="none" stroke="#f4ec10" stroke-width="2.046"/>
<path d="M 169.3 213.6 L 190.2 213.9 Q 209.2 215.2 213.89999999999998 222.5" fill="none" stroke="#ffc400" stroke-width="1.116"/>
<path d="M 231.70000000000002 205.9 Q 233.9 212.79999999999998 244.4 213.6 L 275.5 213.6" fill="none" stroke="#ffc400" stroke-width="1.116"/>
</g>
<path d="M 169.3 213.6 L 190.2 213.9 Q 209.2 215.2 213.89999999999998 222.5" fill="none" stroke="#806000" stroke-width="1.0" stroke-dasharray="3.5 2.5" opacity="0.75"/>
<path d="M 231.70000000000002 205.9 Q 233.9 212.79999999999998 244.4 213.6 L 275.5 213.6" fill="none" stroke="#806000" stroke-width="1.0" stroke-dasharray="3.5 2.5" opacity="0.75"/>
<path d="M 172.3 264.6 L 214.2 222.8 L 231.4 205.6 L 272.5 164.6" fill="none" stroke="#d8a030" stroke-width="1.5"/>
<path d="M 172.3 264.6 L 214.2 222.8 L 231.4 205.6 L 272.5 164.6" fill="none" stroke="#2a2420" stroke-width="0.9"/>
<path d="M 172.3 164.6 L 199.10000000000002 194.1 Q 210.3 207.6 213.7 216.8" fill="none" stroke="#062a24" stroke-width="1.2" stroke-dasharray="3.5 2.6" opacity="0.9"/>
<path d="M 231.70000000000002 213.6 Q 233.4 222.6 243.0 231.29999999999998 L 272.5 264.6" fill="none" stroke="#062a24" stroke-width="1.2" stroke-dasharray="3.5 2.6" opacity="0.9"/>
<path d="M 195.8 164.6 Q 208.3 192.6 213.79999999999998 214.8" fill="none" stroke="#062a24" stroke-width="1.2" stroke-dasharray="3.5 2.6" opacity="0.9"/>
<path d="M 196.60000000000002 264.6 Q 210.3 236.6 214.0 223.8" fill="none" stroke="#062a24" stroke-width="1.2" stroke-dasharray="3.5 2.6" opacity="0.9"/>
<path d="M 246.3 164.6 Q 235.9 183.6 231.70000000000002 204.6" fill="none" stroke="#062a24" stroke-width="1.2" stroke-dasharray="3.5 2.6" opacity="0.9"/>
<path d="M 248.5 264.6 Q 236.4 237.6 231.8 215.6" fill="none" stroke="#062a24" stroke-width="1.2" stroke-dasharray="3.5 2.6" opacity="0.9"/>
</g>
<line x1="214.50" y1="190.10" x2="214.50" y2="222.80" stroke="#062a30" stroke-width="1.1" stroke-dasharray="2 1.6"/>
<line x1="231.40" y1="190.10" x2="231.40" y2="221.60" stroke="#0a4a40" stroke-width="0.9" stroke-dasharray="2.5 2" opacity="0.8"/>
<line x1="231.40" y1="207.00" x2="255.60" y2="207.00" stroke="#0a3a30" stroke-width="0.9" stroke-dasharray="3 2"/>
<line x1="214.20" y1="223.20" x2="255.60" y2="223.20" stroke="#0a3a30" stroke-width="0.9" stroke-dasharray="3 2"/>
<line x1="200.20" y1="195.40" x2="208.40" y2="195.40" stroke="#000" stroke-width="1.5"/>
<polygon points="213.90,195.40 207.90,198.80 207.90,192.00" fill="#000"/>
<line x1="245.40" y1="195.40" x2="237.20" y2="195.40" stroke="#000" stroke-width="1.5"/>
<polygon points="231.70,195.40 237.70,192.00 237.70,198.80" fill="#000"/>
<line x1="249.60" y1="195.10" x2="249.60" y2="200.90" stroke="#000" stroke-width="1.5"/>
<polygon points="249.60,206.40 246.20,200.40 253.00,200.40" fill="#000"/>
<line x1="249.60" y1="235.80" x2="249.60" y2="229.30" stroke="#000" stroke-width="1.5"/>
<polygon points="249.60,223.80 253.00,229.80 246.20,229.80" fill="#000"/>
<rect x="172.30" y="164.60" width="100.20" height="100.00" fill="none" stroke="#2a7c7c" stroke-width="0.9"/>
<text x="213.10" y="182.60" font-size="12.6" text-anchor="start" fill="#000" font-weight="normal" font-style="normal"><tspan font-style="italic" >Δf</tspan><tspan font-style="italic" font-size="9.0" dx="0.3" dy="2.8" fill="#06383c">inj</tspan></text>
<text x="173.30" y="226.20" font-size="8.8" text-anchor="start" fill="#103830" font-weight="normal" font-style="normal"><tspan font-style="italic">m</tspan><tspan font-style="italic" font-size="6.6" dy="1.7">sen</tspan><tspan dy="-1.7"> = 7</tspan></text>
<text x="231.70" y="246.60" font-size="12.6" text-anchor="start" fill="#000" font-weight="normal" font-style="normal"><tspan font-style="italic" >Δf</tspan><tspan font-style="italic" font-size="9.0" dx="0.3" dy="2.8" fill="#06383c">sen</tspan></text>
<text x="217.90" y="254.80" font-size="13.0" text-anchor="start" fill="#c9a03c" font-weight="normal" font-style="normal"><tspan font-style="italic" stroke="#c9a03c" stroke-width="0.15">f</tspan><tspan font-style="italic" font-size="9.2" dx="0.3" dy="2.6" fill="#c9a03c">inj</tspan></text>
<line x1="217.00" y1="249.20" x2="203.04" y2="244.08" stroke="#8a7f88" stroke-width="1.1"/>
<polygon points="199.00,242.60 204.37,241.91 202.65,246.60" fill="#8a7f88"/>
<text x="170.40" y="178.60" font-size="8.1" text-anchor="end" fill="#333" font-weight="normal" font-style="normal">5.28</text>
<line x1="172.30" y1="175.80" x2="173.80" y2="175.80" stroke="#1a5050" stroke-width="0.7"/>
<line x1="272.50" y1="175.80" x2="271.00" y2="175.80" stroke="#1a5050" stroke-width="0.7"/>
<text x="170.40" y="218.60" font-size="8.1" text-anchor="end" fill="#333" font-weight="normal" font-style="normal">5.26</text>
<line x1="172.30" y1="215.80" x2="173.80" y2="215.80" stroke="#1a5050" stroke-width="0.7"/>
<line x1="272.50" y1="215.80" x2="271.00" y2="215.80" stroke="#1a5050" stroke-width="0.7"/>
<text x="170.40" y="259.00" font-size="8.1" text-anchor="end" fill="#333" font-weight="normal" font-style="normal">5.24</text>
<line x1="172.30" y1="256.20" x2="173.80" y2="256.20" stroke="#1a5050" stroke-width="0.7"/>
<line x1="272.50" y1="256.20" x2="271.00" y2="256.20" stroke="#1a5050" stroke-width="0.7"/>
<text x="180.60" y="274.40" font-size="7.8" text-anchor="middle" fill="#333" font-weight="normal" font-style="normal">5.24</text>
<text x="220.70" y="274.40" font-size="7.8" text-anchor="middle" fill="#333" font-weight="normal" font-style="normal">5.26</text>
<text x="260.80" y="274.40" font-size="7.8" text-anchor="middle" fill="#333" font-weight="normal" font-style="normal">5.28</text>
<line x1="177.00" y1="264.60" x2="177.00" y2="263.10" stroke="#1a5050" stroke-width="0.7"/>
<line x1="177.00" y1="164.60" x2="177.00" y2="166.10" stroke="#1a5050" stroke-width="0.7"/>
<line x1="199.80" y1="264.60" x2="199.80" y2="263.10" stroke="#1a5050" stroke-width="0.7"/>
<line x1="199.80" y1="164.60" x2="199.80" y2="166.10" stroke="#1a5050" stroke-width="0.7"/>
<line x1="222.60" y1="264.60" x2="222.60" y2="263.10" stroke="#1a5050" stroke-width="0.7"/>
<line x1="222.60" y1="164.60" x2="222.60" y2="166.10" stroke="#1a5050" stroke-width="0.7"/>
<line x1="245.40" y1="264.60" x2="245.40" y2="263.10" stroke="#1a5050" stroke-width="0.7"/>
<line x1="245.40" y1="164.60" x2="245.40" y2="166.10" stroke="#1a5050" stroke-width="0.7"/>
<line x1="268.20" y1="264.60" x2="268.20" y2="263.10" stroke="#1a5050" stroke-width="0.7"/>
<line x1="268.20" y1="164.60" x2="268.20" y2="166.10" stroke="#1a5050" stroke-width="0.7"/>
<text x="223.70" y="286.20" font-size="12.8" text-anchor="middle" fill="#111" font-weight="normal" font-style="normal" stroke="#000" stroke-width="0.15"><tspan font-style="italic">f</tspan><tspan font-style="italic" font-size="9.6" dy="2.6">inj</tspan><tspan font-style="normal" dy="-2.6"> (GHz)</tspan></text>
<text x="150.60" y="214.10" font-size="12.8" text-anchor="middle" fill="#111" font-weight="normal" font-style="normal" transform="rotate(-90 150.60 214.10)" stroke="#000" stroke-width="0.15"><tspan font-style="italic">f</tspan><tspan font-style="italic" font-size="9.6" dy="2.6">sen</tspan><tspan font-style="normal" dy="-2.6"> (GHz)</tspan></text>
<text x="144.60" y="163.00" font-size="15" text-anchor="start" fill="#000" font-weight="bold" font-style="normal">c</text>
<clipPath id="clip3"><rect x="172.3" y="300.8" width="100.19999999999999" height="99.6"/></clipPath>
<g clip-path="url(#clip3)">
<rect x="172.30" y="300.80" width="100.20" height="99.60" fill="#12f2f6" stroke="none" stroke-width="1"/>
<g filter="url(#bl8)" opacity="0.9">
<path d="M 147.3 307.5 L 208.6 349.5 L 147.3 391.5 Z" fill="#48ffb0" stroke="none" stroke-width="1"/>
<path d="M 297.5 307.5 L 238.0 349.5 L 297.5 391.5 Z" fill="#48ffb0" stroke="none" stroke-width="1"/>
</g>
<g filter="url(#bl2)">
<path d="M 175.8 300.8 L 202.60000000000002 330.3 Q 213.3 343.8 214.6 354.6" fill="none" stroke="#a8f858" stroke-width="4.5" opacity="0.5"/>
<path d="M 232.0 345.6 Q 234.5 355.6 244.6 365.3 L 274.0 398.9" fill="none" stroke="#a8f858" stroke-width="4.5" opacity="1"/>
</g>
<g filter="url(#bl1)">
<path d="M 175.8 300.8 L 202.60000000000002 330.3 Q 213.3 343.8 214.6 354.6" fill="none" stroke="#f0f020" stroke-width="1.4" opacity="0.25"/>
<path d="M 232.0 345.6 Q 234.5 355.6 244.6 365.3 L 274.0 398.9" fill="none" stroke="#f0f020" stroke-width="1.4" opacity="0.8"/>
</g>
<g filter="url(#bl4)" opacity="0.95">
<path d="M 169.3 349.4 L 190.6 349.7 Q 209.6 351.0 214.29999999999998 360.3" fill="none" stroke="#a8f858" stroke-width="9.799999999999999"/>
<path d="M 232.3 339.90000000000003 Q 234.5 348.8 245.0 349.6 L 275.5 349.6" fill="none" stroke="#a8f858" stroke-width="9.799999999999999"/>
</g>
<g filter="url(#bl2)">
<path d="M 169.3 349.4 L 190.6 349.7 Q 209.6 351.0 214.29999999999998 360.3" fill="none" stroke="#f8f418" stroke-width="5.25"/>
<path d="M 232.3 339.90000000000003 Q 234.5 348.8 245.0 349.6 L 275.5 349.6" fill="none" stroke="#f8f418" stroke-width="5.25"/>
</g>
<g filter="url(#bl1)">
<path d="M 169.3 349.4 L 190.6 349.7 Q 209.6 351.0 214.29999999999998 360.3" fill="none" stroke="#ffc000" stroke-width="2.3099999999999996"/>
<path d="M 232.3 339.90000000000003 Q 234.5 348.8 245.0 349.6 L 275.5 349.6" fill="none" stroke="#ffc000" stroke-width="2.3099999999999996"/>
<path d="M 169.3 349.4 L 190.6 349.7 Q 209.6 351.0 214.29999999999998 360.3" fill="none" stroke="#ff8000" stroke-width="1.26"/>
<path d="M 232.3 339.90000000000003 Q 234.5 348.8 245.0 349.6 L 275.5 349.6" fill="none" stroke="#ff8000" stroke-width="1.26"/>
</g>
<path d="M 169.3 349.4 L 190.6 349.7 Q 209.6 351.0 214.29999999999998 360.3" fill="none" stroke="#804000" stroke-width="1.0" stroke-dasharray="3.5 2.5" opacity="0.75"/>
<path d="M 232.3 339.90000000000003 Q 234.5 348.8 245.0 349.6 L 275.5 349.6" fill="none" stroke="#804000" stroke-width="1.0" stroke-dasharray="3.5 2.5" opacity="0.75"/>
<path d="M 172.3 400.4 L 214.6 360.6 L 232.0 339.6" fill="none" stroke="#e8e020" stroke-width="1.5"/>
<path d="M 172.3 400.4 L 214.6 360.6 L 232.0 339.6" fill="none" stroke="#f08a00" stroke-width="0.9"/>
<path d="M 232.0 339.6 L 272.5 300.8" fill="none" stroke="#f0e020" stroke-width="1.5"/>
<path d="M 232.0 339.6 L 272.5 300.8" fill="none" stroke="#f0a000" stroke-width="0.8"/>
<path d="M 172.3 400.4 L 214.6 360.6 L 232.0 339.6 L 272.5 300.8" fill="none" stroke="#4a3000" stroke-width="0.8" stroke-dasharray="3 2.6" opacity="0.8"/>
<path d="M 172.3 300.8 L 199.10000000000002 330.3 Q 210.3 343.8 214.1 354.6" fill="none" stroke="#062a24" stroke-width="1.2" stroke-dasharray="3.5 2.6" opacity="0.9"/>
<path d="M 232.3 347.6 Q 234.0 356.6 243.6 365.3 L 272.5 400.4" fill="none" stroke="#062a24" stroke-width="1.2" stroke-dasharray="3.5 2.6" opacity="0.9"/>
<path d="M 195.8 300.8 Q 208.3 328.8 214.2 352.6" fill="none" stroke="#062a24" stroke-width="1.2" stroke-dasharray="3.5 2.6" opacity="0.9"/>
<path d="M 196.60000000000002 400.4 Q 210.3 372.8 214.4 361.6" fill="none" stroke="#062a24" stroke-width="1.2" stroke-dasharray="3.5 2.6" opacity="0.9"/>
<path d="M 246.3 300.8 Q 236.5 317.6 232.3 338.6" fill="none" stroke="#062a24" stroke-width="1.2" stroke-dasharray="3.5 2.6" opacity="0.9"/>
<path d="M 248.5 400.4 Q 237.0 371.6 232.4 349.6" fill="none" stroke="#062a24" stroke-width="1.2" stroke-dasharray="3.5 2.6" opacity="0.9"/>
</g>
<line x1="214.90" y1="326.30" x2="214.90" y2="360.60" stroke="#062a30" stroke-width="1.1" stroke-dasharray="2 1.6"/>
<line x1="232.00" y1="326.30" x2="232.00" y2="355.60" stroke="#0a4a40" stroke-width="0.9" stroke-dasharray="2.5 2" opacity="0.8"/>
<line x1="232.00" y1="341.00" x2="255.60" y2="341.00" stroke="#0a3a30" stroke-width="0.9" stroke-dasharray="3 2"/>
<line x1="214.60" y1="361.00" x2="255.60" y2="361.00" stroke="#0a3a30" stroke-width="0.9" stroke-dasharray="3 2"/>
<line x1="200.60" y1="331.60" x2="208.80" y2="331.60" stroke="#000" stroke-width="1.5"/>
<polygon points="214.30,331.60 208.30,335.00 208.30,328.20" fill="#000"/>
<line x1="246.00" y1="331.60" x2="237.80" y2="331.60" stroke="#000" stroke-width="1.5"/>
<polygon points="232.30,331.60 238.30,328.20 238.30,335.00" fill="#000"/>
<line x1="249.60" y1="329.10" x2="249.60" y2="334.90" stroke="#000" stroke-width="1.5"/>
<polygon points="249.60,340.40 246.20,334.40 253.00,334.40" fill="#000"/>
<line x1="249.60" y1="373.60" x2="249.60" y2="367.10" stroke="#000" stroke-width="1.5"/>
<polygon points="249.60,361.60 253.00,367.60 246.20,367.60" fill="#000"/>
<rect x="172.30" y="300.80" width="100.20" height="99.60" fill="none" stroke="#2a7c7c" stroke-width="0.9"/>
<text x="213.50" y="318.80" font-size="12.6" text-anchor="start" fill="#000" font-weight="normal" font-style="normal"><tspan font-style="italic" >Δf</tspan><tspan font-style="italic" font-size="9.0" dx="0.3" dy="2.8" fill="#06383c">inj</tspan></text>
<text x="173.30" y="361.80" font-size="8.8" text-anchor="start" fill="#103830" font-weight="normal" font-style="normal"><tspan font-style="italic">m</tspan><tspan font-style="italic" font-size="6.6" dy="1.7">sen</tspan><tspan dy="-1.7"> = 9</tspan></text>
<text x="231.70" y="383.90" font-size="12.6" text-anchor="start" fill="#000" font-weight="normal" font-style="normal"><tspan font-style="italic" >Δf</tspan><tspan font-style="italic" font-size="9.0" dx="0.3" dy="2.8" fill="#06383c">sen</tspan></text>
<text x="216.30" y="390.50" font-size="13.0" text-anchor="start" fill="#111" font-weight="normal" font-style="normal"><tspan font-style="italic" stroke="#111" stroke-width="0.15">f</tspan><tspan font-style="italic" font-size="9.2" dx="0.3" dy="2.6" fill="#06383c">id</tspan></text>
<line x1="213.30" y1="389.30" x2="202.89" y2="384.42" stroke="#8a7f88" stroke-width="1.1"/>
<polygon points="199.00,382.60 204.41,382.37 202.29,386.90" fill="#8a7f88"/>
<text x="170.40" y="320.90" font-size="8.1" text-anchor="end" fill="#333" font-weight="normal" font-style="normal">6.78</text>
<line x1="172.30" y1="318.10" x2="173.80" y2="318.10" stroke="#1a5050" stroke-width="0.7"/>
<line x1="272.50" y1="318.10" x2="271.00" y2="318.10" stroke="#1a5050" stroke-width="0.7"/>
<text x="170.40" y="361.00" font-size="8.1" text-anchor="end" fill="#333" font-weight="normal" font-style="normal">6.76</text>
<line x1="172.30" y1="358.20" x2="173.80" y2="358.20" stroke="#1a5050" stroke-width="0.7"/>
<line x1="272.50" y1="358.20" x2="271.00" y2="358.20" stroke="#1a5050" stroke-width="0.7"/>
<text x="170.40" y="401.10" font-size="8.1" text-anchor="end" fill="#333" font-weight="normal" font-style="normal">6.74</text>
<line x1="172.30" y1="398.30" x2="173.80" y2="398.30" stroke="#1a5050" stroke-width="0.7"/>
<line x1="272.50" y1="398.30" x2="271.00" y2="398.30" stroke="#1a5050" stroke-width="0.7"/>
<text x="180.60" y="410.60" font-size="7.8" text-anchor="middle" fill="#333" font-weight="normal" font-style="normal">5.24</text>
<text x="220.70" y="410.60" font-size="7.8" text-anchor="middle" fill="#333" font-weight="normal" font-style="normal">5.26</text>
<text x="260.80" y="410.60" font-size="7.8" text-anchor="middle" fill="#333" font-weight="normal" font-style="normal">5.28</text>
<line x1="177.00" y1="400.40" x2="177.00" y2="398.90" stroke="#1a5050" stroke-width="0.7"/>
<line x1="177.00" y1="300.80" x2="177.00" y2="302.30" stroke="#1a5050" stroke-width="0.7"/>
<line x1="199.80" y1="400.40" x2="199.80" y2="398.90" stroke="#1a5050" stroke-width="0.7"/>
<line x1="199.80" y1="300.80" x2="199.80" y2="302.30" stroke="#1a5050" stroke-width="0.7"/>
<line x1="222.60" y1="400.40" x2="222.60" y2="398.90" stroke="#1a5050" stroke-width="0.7"/>
<line x1="222.60" y1="300.80" x2="222.60" y2="302.30" stroke="#1a5050" stroke-width="0.7"/>
<line x1="245.40" y1="400.40" x2="245.40" y2="398.90" stroke="#1a5050" stroke-width="0.7"/>
<line x1="245.40" y1="300.80" x2="245.40" y2="302.30" stroke="#1a5050" stroke-width="0.7"/>
<line x1="268.20" y1="400.40" x2="268.20" y2="398.90" stroke="#1a5050" stroke-width="0.7"/>
<line x1="268.20" y1="300.80" x2="268.20" y2="302.30" stroke="#1a5050" stroke-width="0.7"/>
<text x="223.70" y="422.40" font-size="12.8" text-anchor="middle" fill="#111" font-weight="normal" font-style="normal" stroke="#000" stroke-width="0.15"><tspan font-style="italic">f</tspan><tspan font-style="italic" font-size="9.6" dy="2.6">inj</tspan><tspan font-style="normal" dy="-2.6"> (GHz)</tspan></text>
<text x="150.60" y="350.30" font-size="12.8" text-anchor="middle" fill="#111" font-weight="normal" font-style="normal" transform="rotate(-90 150.60 350.30)" stroke="#000" stroke-width="0.15"><tspan font-style="italic">f</tspan><tspan font-style="italic" font-size="9.6" dy="2.6">sen</tspan><tspan font-style="normal" dy="-2.6"> (GHz)</tspan></text>
<text x="144.60" y="296.20" font-size="15" text-anchor="start" fill="#000" font-weight="bold" font-style="normal">d</text>
<clipPath id="clipse"><rect x="313.0" y="28.5" width="99.69999999999999" height="98.7"/></clipPath>
<g clip-path="url(#clipse)">
<polygon points="313.0,115.0 313.5,114.3 314.0,116.5 314.5,116.5 315.0,114.4 315.5,114.2 316.0,115.9 316.5,116.5 317.0,114.4 317.5,116.1 318.0,114.5 318.5,115.5 319.0,114.8 319.5,116.3 320.0,114.9 320.5,116.2 321.0,115.9 321.5,114.6 322.0,114.6 322.5,116.2 323.0,116.1 323.5,115.8 324.0,115.6 324.5,115.8 325.0,116.1 325.5,116.0 326.0,114.8 326.5,114.1 327.0,116.0 327.5,115.2 328.0,114.6 328.5,115.9 329.0,114.2 329.5,115.8 330.0,114.9 330.5,115.0 331.0,114.7 331.5,115.4 332.0,115.1 332.5,114.7 333.0,115.0 333.5,114.3 334.0,114.8 334.5,114.7 335.0,115.1 335.5,114.0 336.0,114.3 336.5,114.6 337.0,113.2 337.5,113.0 338.0,113.8 338.5,114.1 339.0,113.4 339.5,113.7 340.0,113.5 340.5,112.8 341.0,113.0 341.5,112.2 342.0,111.7 342.5,112.0 343.0,110.6 343.5,111.1 344.0,109.3 344.5,108.5 345.0,108.6 345.5,108.4 346.0,106.9 346.5,106.1 347.0,103.0 347.5,103.6 348.0,100.1 348.5,97.4 349.0,95.9 349.5,92.6 350.0,90.5 350.5,83.9 351.0,80.4 351.5,72.7 352.0,66.1 352.5,60.8 353.0,52.4 353.5,46.2 354.0,45.3 354.5,45.3 355.0,47.9 355.5,55.1 356.0,60.4 356.5,69.3 357.0,74.6 357.5,82.1 358.0,86.5 358.5,89.3 359.0,94.7 359.5,97.6 360.0,99.6 360.5,102.0 361.0,103.9 361.5,105.3 362.0,106.6 362.5,105.6 363.0,107.5 363.5,107.5 364.0,110.0 364.5,109.2 365.0,111.2 365.5,111.0 366.0,111.1 366.5,112.1 367.0,110.9 367.5,112.3 368.0,112.5 368.5,111.7 369.0,113.8 369.5,111.6 370.0,113.2 370.5,114.0 371.0,113.0 371.5,114.4 372.0,112.4 372.5,114.1 373.0,114.7 373.5,113.7 374.0,114.7 374.5,115.2 375.0,114.0 375.5,115.4 376.0,113.9 376.5,115.4 377.0,114.6 377.5,113.3 378.0,114.9 378.5,114.7 379.0,115.6 379.5,115.9 380.0,115.9 380.5,115.9 381.0,115.1 381.5,115.6 382.0,115.4 382.5,114.2 383.0,116.1 383.5,116.0 384.0,115.2 384.5,116.2 385.0,116.2 385.5,116.0 386.0,116.3 386.5,116.0 387.0,116.2 387.5,115.5 388.0,115.5 388.5,116.3 389.0,115.5 389.5,115.9 390.0,116.4 390.5,114.3 391.0,116.3 391.5,116.4 392.0,116.5 392.5,115.5 393.0,114.7 393.5,115.1 394.0,116.1 394.5,116.4 395.0,116.6 395.5,115.6 396.0,115.8 396.5,116.3 397.0,115.6 397.5,116.1 398.0,114.5 398.5,115.3 399.0,116.5 399.5,114.7 400.0,116.6 400.5,116.0 401.0,116.3 401.5,116.5 402.0,116.7 402.5,115.2 403.0,116.7 403.5,116.0 404.0,114.6 404.5,116.7 405.0,116.6 405.5,115.8 406.0,116.1 406.5,115.7 407.0,115.1 407.5,116.7 408.0,116.5 408.5,116.5 409.0,116.7 409.5,114.9 410.0,115.3 410.5,115.5 411.0,116.8 411.5,115.1 412.0,115.4 412.5,116.3 412.5,126.0 412.0,126.0 411.5,126.0 411.0,126.0 410.5,126.0 410.0,126.0 409.5,126.0 409.0,126.0 408.5,126.0 408.0,126.0 407.5,126.0 407.0,126.0 406.5,126.0 406.0,126.0 405.5,125.9 405.0,125.9 404.5,125.9 404.0,125.9 403.5,125.9 403.0,125.9 402.5,125.9 402.0,125.9 401.5,125.9 401.0,125.9 400.5,125.9 400.0,125.9 399.5,125.9 399.0,125.8 398.5,125.8 398.0,125.8 397.5,125.8 397.0,125.8 396.5,125.8 396.0,125.8 395.5,125.8 395.0,125.8 394.5,125.7 394.0,125.7 393.5,125.7 393.0,125.7 392.5,125.7 392.0,125.7 391.5,125.7 391.0,125.6 390.5,125.6 390.0,125.6 389.5,125.6 389.0,125.6 388.5,125.6 388.0,125.5 387.5,125.5 387.0,125.5 386.5,125.5 386.0,125.4 385.5,125.4 385.0,125.4 384.5,125.4 384.0,125.3 383.5,125.3 383.0,125.3 382.5,125.2 382.0,125.2 381.5,125.2 381.0,125.1 380.5,125.1 380.0,125.1 379.5,125.0 379.0,125.0 378.5,124.9 378.0,124.9 377.5,124.8 377.0,124.8 376.5,124.7 376.0,124.7 375.5,124.6 375.0,124.6 374.5,124.5 374.0,124.4 373.5,124.3 373.0,124.3 372.5,124.2 372.0,124.1 371.5,124.0 371.0,123.9 370.5,123.8 370.0,123.7 369.5,123.6 369.0,123.5 368.5,123.3 368.0,123.2 367.5,123.1 367.0,122.9 366.5,122.7 366.0,122.6 365.5,122.4 365.0,122.2 364.5,122.0 364.0,121.8 363.5,121.6 363.0,121.4 362.5,121.2 362.0,121.0 361.5,120.7 361.0,120.5 360.5,120.3 360.0,120.0 359.5,119.8 359.0,119.6 358.5,119.4 358.0,119.2 357.5,119.0 357.0,118.8 356.5,118.6 356.0,118.5 355.5,118.4 355.0,118.3 354.5,118.3 354.0,118.3 353.5,118.3 353.0,118.4 352.5,118.5 352.0,118.6 351.5,118.8 351.0,118.9 350.5,119.1 350.0,119.3 349.5,119.5 349.0,119.8 348.5,120.0 348.0,120.2 347.5,120.5 347.0,120.7 346.5,120.9 346.0,121.2 345.5,121.4 345.0,121.6 344.5,121.8 344.0,122.0 343.5,122.2 343.0,122.4 342.5,122.5 342.0,122.7 341.5,122.9 341.0,123.0 340.5,123.2 340.0,123.3 339.5,123.4 339.0,123.6 338.5,123.7 338.0,123.8 337.5,123.9 337.0,124.0 336.5,124.1 336.0,124.2 335.5,124.2 335.0,124.3 334.5,124.4 334.0,124.5 333.5,124.5 333.0,124.6 332.5,124.7 332.0,124.7 331.5,124.8 331.0,124.8 330.5,124.9 330.0,124.9 329.5,125.0 329.0,125.0 328.5,125.1 328.0,125.1 327.5,125.1 327.0,125.2 326.5,125.2 326.0,125.2 325.5,125.3 325.0,125.3 324.5,125.3 324.0,125.4 323.5,125.4 323.0,125.4 322.5,125.4 322.0,125.5 321.5,125.5 321.0,125.5 320.5,125.5 320.0,125.5 319.5,125.6 319.0,125.6 318.5,125.6 318.0,125.6 317.5,125.6 317.0,125.7 316.5,125.7 316.0,125.7 315.5,125.7 315.0,125.7 314.5,125.7 314.0,125.7 313.5,125.8 313.0,125.8" fill="#000"/>
<polygon points="313.0,117.4 313.5,115.9 314.0,115.9 314.5,116.2 315.0,117.2 315.5,117.3 316.0,116.8 316.5,117.5 317.0,115.9 317.5,118.0 318.0,117.8 318.5,115.9 319.0,117.3 319.5,117.3 320.0,117.7 320.5,115.8 321.0,116.9 321.5,117.0 322.0,116.4 322.5,117.1 323.0,116.3 323.5,116.7 324.0,115.6 324.5,115.2 325.0,115.4 325.5,115.2 326.0,115.9 326.5,115.0 327.0,116.9 327.5,116.9 328.0,115.0 328.5,115.9 329.0,117.2 329.5,114.9 330.0,117.5 330.5,115.0 331.0,115.0 331.5,117.2 332.0,116.5 332.5,116.5 333.0,114.8 333.5,116.8 334.0,115.4 334.5,114.5 335.0,115.2 335.5,115.4 336.0,117.2 336.5,116.8 337.0,114.3 337.5,115.4 338.0,115.1 338.5,115.6 339.0,116.5 339.5,116.3 340.0,113.8 340.5,116.0 341.0,113.6 341.5,115.0 342.0,114.0 342.5,114.4 343.0,114.0 343.5,114.0 344.0,115.1 344.5,113.2 345.0,113.0 345.5,114.8 346.0,114.4 346.5,113.6 347.0,115.0 347.5,114.8 348.0,112.6 348.5,114.6 349.0,112.9 349.5,112.3 350.0,113.1 350.5,113.6 351.0,112.3 351.5,111.6 352.0,113.1 352.5,111.5 353.0,113.3 353.5,111.3 354.0,113.6 354.5,111.5 355.0,113.0 355.5,111.4 356.0,111.8 356.5,112.7 357.0,112.2 357.5,114.2 358.0,111.7 358.5,111.8 359.0,114.6 359.5,114.0 360.0,112.5 360.5,112.4 361.0,113.3 361.5,113.5 362.0,114.5 362.5,114.5 363.0,113.1 363.5,114.0 364.0,115.7 364.5,114.8 365.0,114.4 365.5,115.4 366.0,115.7 366.5,116.0 367.0,115.5 367.5,114.6 368.0,114.0 368.5,116.1 369.0,115.8 369.5,115.2 370.0,115.9 370.5,116.1 371.0,114.7 371.5,116.5 372.0,115.7 372.5,114.4 373.0,114.8 373.5,117.2 374.0,114.7 374.5,116.1 375.0,116.0 375.5,117.0 376.0,115.8 376.5,115.2 377.0,115.8 377.5,115.0 378.0,115.8 378.5,115.5 379.0,114.8 379.5,116.0 380.0,115.8 380.5,115.5 381.0,117.7 381.5,115.5 382.0,116.1 382.5,115.3 383.0,117.3 383.5,116.3 384.0,115.6 384.5,116.0 385.0,117.4 385.5,116.4 386.0,116.7 386.5,117.5 387.0,117.6 387.5,116.2 388.0,116.3 388.5,115.1 389.0,115.9 389.5,116.0 390.0,116.4 390.5,117.1 391.0,117.9 391.5,115.3 392.0,117.9 392.5,115.6 393.0,117.1 393.5,115.2 394.0,117.1 394.5,115.5 395.0,115.9 395.5,116.2 396.0,117.9 396.5,115.7 397.0,117.0 397.5,117.2 398.0,117.6 398.5,115.8 399.0,116.8 399.5,116.6 400.0,116.9 400.5,116.0 401.0,116.7 401.5,116.7 402.0,116.7 402.5,116.9 403.0,115.3 403.5,116.7 404.0,117.3 404.5,116.4 405.0,118.2 405.5,117.2 406.0,115.4 406.5,117.4 407.0,116.3 407.5,116.8 408.0,118.0 408.5,117.5 409.0,116.3 409.5,116.4 410.0,116.9 410.5,116.0 411.0,116.6 411.5,117.8 412.0,117.8 412.5,116.9 412.5,126.9 412.0,126.6 411.5,126.8 411.0,126.1 410.5,126.5 410.0,125.1 409.5,126.3 409.0,124.6 408.5,125.8 408.0,127.1 407.5,126.3 407.0,123.8 406.5,124.1 406.0,125.8 405.5,125.7 405.0,127.0 404.5,126.4 404.0,124.6 403.5,125.9 403.0,124.6 402.5,124.5 402.0,126.2 401.5,126.9 401.0,127.0 400.5,126.9 400.0,126.7 399.5,124.3 399.0,125.1 398.5,125.3 398.0,124.5 397.5,124.2 397.0,124.8 396.5,124.2 396.0,124.8 395.5,126.8 395.0,124.8 394.5,126.8 394.0,126.6 393.5,123.7 393.0,126.8 392.5,124.4 392.0,124.7 391.5,124.4 391.0,124.3 390.5,126.3 390.0,125.3 389.5,125.9 389.0,126.5 388.5,124.9 388.0,126.5 387.5,126.4 387.0,126.3 386.5,126.1 386.0,126.5 385.5,126.2 385.0,124.2 384.5,125.1 384.0,123.3 383.5,125.3 383.0,125.0 382.5,124.3 382.0,126.2 381.5,124.1 381.0,125.3 380.5,124.3 380.0,125.9 379.5,124.5 379.0,125.5 378.5,125.5 378.0,126.0 377.5,122.6 377.0,123.9 376.5,124.2 376.0,122.7 375.5,124.8 375.0,124.3 374.5,123.8 374.0,124.4 373.5,124.5 373.0,123.3 372.5,124.3 372.0,122.0 371.5,124.6 371.0,123.5 370.5,122.0 370.0,124.2 369.5,124.0 369.0,124.3 368.5,122.7 368.0,123.7 367.5,122.8 367.0,123.3 366.5,122.3 366.0,122.0 365.5,120.9 365.0,123.1 364.5,121.2 364.0,122.3 363.5,120.9 363.0,121.3 362.5,121.6 362.0,121.2 361.5,119.7 361.0,121.6 360.5,121.2 360.0,119.8 359.5,120.3 359.0,118.5 358.5,120.0 358.0,117.1 357.5,118.3 357.0,119.8 356.5,119.6 356.0,119.2 355.5,119.4 355.0,117.0 354.5,119.1 354.0,119.2 353.5,118.7 353.0,118.4 352.5,118.9 352.0,117.8 351.5,117.4 351.0,119.7 350.5,118.8 350.0,118.5 349.5,119.9 349.0,118.2 348.5,120.2 348.0,121.1 347.5,121.6 347.0,121.8 346.5,121.5 346.0,121.8 345.5,120.4 345.0,120.6 344.5,121.5 344.0,122.3 343.5,123.1 343.0,120.4 342.5,121.3 342.0,123.0 341.5,121.8 341.0,123.3 340.5,121.0 340.0,124.3 339.5,124.4 339.0,124.6 338.5,124.6 338.0,123.2 337.5,122.9 337.0,124.5 336.5,123.9 336.0,124.4 335.5,125.0 335.0,123.7 334.5,125.3 334.0,125.0 333.5,125.5 333.0,125.7 332.5,125.5 332.0,123.5 331.5,123.6 331.0,125.9 330.5,125.8 330.0,123.0 329.5,123.5 329.0,123.4 328.5,123.9 328.0,125.0 327.5,124.4 327.0,124.9 326.5,126.3 326.0,126.3 325.5,123.4 325.0,126.4 324.5,123.6 324.0,125.1 323.5,126.2 323.0,124.7 322.5,124.0 322.0,124.2 321.5,123.3 321.0,125.0 320.5,123.8 320.0,126.3 319.5,126.3 319.0,123.7 318.5,126.5 318.0,126.7 317.5,126.6 317.0,125.4 316.5,125.8 316.0,126.1 315.5,126.6 315.0,124.4 314.5,124.9 314.0,126.8 313.5,126.8 313.0,126.2" fill="#f00000"/>
<path d="M 351.0 114.4 Q 352.9 111.9 353.09999999999997 104.4 L 353.4 39.0 L 355.0 39.0 L 355.3 104.4 Q 355.5 111.9 357.4 114.4 Z" fill="#f00000" stroke="none" stroke-width="1"/>
</g>
<rect x="313.00" y="28.50" width="99.70" height="98.70" fill="none" stroke="#000" stroke-width="1.4"/>
<line x1="313.00" y1="40.10" x2="315.20" y2="40.10" stroke="#000" stroke-width="0.9"/>
<text x="310.40" y="43.20" font-size="9.0" text-anchor="end" fill="#2a2a2a" font-weight="normal" font-style="normal">0</text>
<line x1="313.00" y1="62.50" x2="315.20" y2="62.50" stroke="#000" stroke-width="0.9"/>
<text x="310.40" y="65.60" font-size="9.0" text-anchor="end" fill="#2a2a2a" font-weight="normal" font-style="normal">-10</text>
<line x1="313.00" y1="84.90" x2="315.20" y2="84.90" stroke="#000" stroke-width="0.9"/>
<text x="310.40" y="88.00" font-size="9.0" text-anchor="end" fill="#2a2a2a" font-weight="normal" font-style="normal">-20</text>
<line x1="313.00" y1="107.30" x2="315.20" y2="107.30" stroke="#000" stroke-width="0.9"/>
<text x="310.40" y="110.40" font-size="9.0" text-anchor="end" fill="#2a2a2a" font-weight="normal" font-style="normal">-30</text>
<line x1="313.00" y1="28.90" x2="314.40" y2="28.90" stroke="#000" stroke-width="0.8"/>
<line x1="313.00" y1="51.30" x2="314.40" y2="51.30" stroke="#000" stroke-width="0.8"/>
<line x1="313.00" y1="73.70" x2="314.40" y2="73.70" stroke="#000" stroke-width="0.8"/>
<line x1="313.00" y1="96.10" x2="314.40" y2="96.10" stroke="#000" stroke-width="0.8"/>
<line x1="313.00" y1="118.50" x2="314.40" y2="118.50" stroke="#000" stroke-width="0.8"/>
<text x="314.30" y="137.50" font-size="8.5" text-anchor="middle" fill="#222" font-weight="normal" font-style="normal">4.489</text>
<text x="354.80" y="137.50" font-size="8.5" text-anchor="middle" fill="#222" font-weight="normal" font-style="normal">4.509</text>
<text x="394.70" y="137.50" font-size="8.5" text-anchor="middle" fill="#222" font-weight="normal" font-style="normal">4.529</text>
<line x1="314.20" y1="127.20" x2="314.20" y2="125.00" stroke="#000" stroke-width="0.8"/>
<line x1="314.20" y1="28.50" x2="314.20" y2="30.70" stroke="#000" stroke-width="0.8"/>
<line x1="324.25" y1="127.20" x2="324.25" y2="125.80" stroke="#000" stroke-width="0.8"/>
<line x1="324.25" y1="28.50" x2="324.25" y2="29.90" stroke="#000" stroke-width="0.8"/>
<line x1="334.30" y1="127.20" x2="334.30" y2="125.00" stroke="#000" stroke-width="0.8"/>
<line x1="334.30" y1="28.50" x2="334.30" y2="30.70" stroke="#000" stroke-width="0.8"/>
<line x1="344.35" y1="127.20" x2="344.35" y2="125.80" stroke="#000" stroke-width="0.8"/>
<line x1="344.35" y1="28.50" x2="344.35" y2="29.90" stroke="#000" stroke-width="0.8"/>
<line x1="354.40" y1="127.20" x2="354.40" y2="125.00" stroke="#000" stroke-width="0.8"/>
<line x1="354.40" y1="28.50" x2="354.40" y2="30.70" stroke="#000" stroke-width="0.8"/>
<line x1="364.45" y1="127.20" x2="364.45" y2="125.80" stroke="#000" stroke-width="0.8"/>
<line x1="364.45" y1="28.50" x2="364.45" y2="29.90" stroke="#000" stroke-width="0.8"/>
<line x1="374.50" y1="127.20" x2="374.50" y2="125.00" stroke="#000" stroke-width="0.8"/>
<line x1="374.50" y1="28.50" x2="374.50" y2="30.70" stroke="#000" stroke-width="0.8"/>
<line x1="384.55" y1="127.20" x2="384.55" y2="125.80" stroke="#000" stroke-width="0.8"/>
<line x1="384.55" y1="28.50" x2="384.55" y2="29.90" stroke="#000" stroke-width="0.8"/>
<line x1="394.60" y1="127.20" x2="394.60" y2="125.00" stroke="#000" stroke-width="0.8"/>
<line x1="394.60" y1="28.50" x2="394.60" y2="30.70" stroke="#000" stroke-width="0.8"/>
<line x1="404.65" y1="127.20" x2="404.65" y2="125.80" stroke="#000" stroke-width="0.8"/>
<line x1="404.65" y1="28.50" x2="404.65" y2="29.90" stroke="#000" stroke-width="0.8"/>
<text x="358.20" y="147.80" font-size="12.7" text-anchor="middle" fill="#111" font-weight="normal" font-style="normal" stroke="#000" stroke-width="0.15"><tspan font-style="italic">f</tspan><tspan font-style="italic" font-size="9.6" dy="2.6">sen</tspan><tspan font-style="normal" dy="-2.6"> (GHz)</tspan></text>
<text x="293.60" y="79.50" font-size="9.8" text-anchor="middle" fill="#222" font-weight="normal" font-style="normal" transform="rotate(-90 293.60 79.50)">Sf (dBm/MHz)</text>
<text x="314.80" y="36.80" font-size="9.2" text-anchor="start" fill="#222" font-weight="normal" font-style="normal"><tspan font-style="italic">m</tspan><tspan font-style="italic" font-size="6.6" dy="1.7">sen</tspan><tspan dy="-1.7"> = 6</tspan></text>
<text x="330.00" y="83.00" font-size="9.2" text-anchor="middle" fill="#222" font-weight="normal" font-style="normal" transform="rotate(-90 330.00 83.00)"><tspan font-style="italic">f</tspan><tspan font-style="italic" font-size="6.6" dy="1.6">inj</tspan><tspan dy="-1.6"> = 5.26 GHz</tspan></text>
<path d="M 381.2 48.0 L 381.2 72.6 L 409.2 72.6" fill="none" stroke="#000" stroke-width="1.3"/>
<polyline points="381.20,71.60 381.67,71.84 382.13,71.68 382.60,71.75 383.07,71.52 383.53,71.51 384.00,71.50 384.47,71.64 384.93,71.67 385.40,71.74 385.87,71.37 386.33,71.71 386.80,71.79 387.27,71.62 387.73,71.37 388.20,71.50 388.67,71.35 389.13,71.44 389.60,71.81 390.07,71.64 390.53,71.61 391.00,71.50 391.47,71.08 391.93,69.81 392.40,67.61 392.87,64.03 393.33,59.30 393.80,54.34 394.27,50.91 394.73,49.99 395.20,52.61 395.67,57.01 396.13,62.16 396.60,65.99 397.07,68.81 397.53,70.27 398.00,71.34 398.47,71.68 398.93,71.65 399.40,71.53 399.87,71.76 400.33,71.74 400.80,71.63 401.27,71.48 401.73,71.50 402.20,71.56 402.67,71.51 403.13,71.57 403.60,71.67 404.07,71.82 404.53,71.38 405.00,71.63 405.47,71.37 405.93,71.41 406.40,71.76 406.87,71.64 407.33,71.81 407.80,71.57 408.27,71.36 408.73,71.54 409.20,71.65" fill="none" stroke="#f00000" stroke-width="1.3"/>
<text x="379.40" y="53.90" font-size="7.2" text-anchor="end" fill="#222" font-weight="normal" font-style="normal">0.8</text>
<line x1="381.20" y1="51.40" x2="382.70" y2="51.40" stroke="#000" stroke-width="0.8"/>
<text x="379.40" y="63.70" font-size="7.2" text-anchor="end" fill="#222" font-weight="normal" font-style="normal">0.4</text>
<line x1="381.20" y1="61.20" x2="382.70" y2="61.20" stroke="#000" stroke-width="0.8"/>
<text x="379.40" y="73.30" font-size="7.2" text-anchor="end" fill="#222" font-weight="normal" font-style="normal">0.0</text>
<line x1="381.20" y1="70.80" x2="382.70" y2="70.80" stroke="#000" stroke-width="0.8"/>
<text x="386.00" y="81.60" font-size="7.6" text-anchor="middle" fill="#222" font-weight="normal" font-style="normal">-3</text>
<text x="394.50" y="81.60" font-size="7.6" text-anchor="middle" fill="#222" font-weight="normal" font-style="normal">0</text>
<text x="402.80" y="81.60" font-size="7.6" text-anchor="middle" fill="#222" font-weight="normal" font-style="normal">3</text>
<text x="393.60" y="90.80" font-size="9.0" text-anchor="middle" fill="#222" font-weight="normal" font-style="normal"><tspan font-style="italic">Δf</tspan> (Hz)</text>
<text x="365.30" y="61.10" font-size="9.0" text-anchor="middle" fill="#222" font-weight="normal" font-style="normal" transform="rotate(-90 365.30 61.10)">Sf (mW/MHz)</text>
<text x="285.30" y="20.20" font-size="15" text-anchor="start" fill="#000" font-weight="bold" font-style="normal">e</text>
<clipPath id="clipsf"><rect x="313.0" y="165.0" width="99.69999999999999" height="99.0"/></clipPath>
<g clip-path="url(#clipsf)">
<polygon points="313.0,252.0 313.5,251.8 314.0,253.5 314.5,253.6 315.0,254.0 315.5,253.0 316.0,253.9 316.5,254.0 317.0,254.0 317.5,254.0 318.0,252.8 318.5,253.9 319.0,251.7 319.5,253.9 320.0,252.1 320.5,253.9 321.0,253.9 321.5,252.6 322.0,253.7 322.5,252.6 323.0,253.7 323.5,253.8 324.0,252.3 324.5,252.5 325.0,252.0 325.5,252.4 326.0,253.7 326.5,252.7 327.0,252.4 327.5,253.1 328.0,251.5 328.5,253.4 329.0,251.3 329.5,252.3 330.0,253.4 330.5,253.4 331.0,252.3 331.5,251.7 332.0,253.3 332.5,253.0 333.0,251.9 333.5,253.0 334.0,251.3 334.5,252.4 335.0,252.9 335.5,252.5 336.0,251.9 336.5,252.2 337.0,251.5 337.5,252.4 338.0,250.8 338.5,251.9 339.0,251.1 339.5,251.0 340.0,251.3 340.5,251.2 341.0,249.9 341.5,249.0 342.0,249.4 342.5,249.9 343.0,250.1 343.5,250.0 344.0,247.4 344.5,248.0 345.0,247.1 345.5,248.0 346.0,246.7 346.5,244.7 347.0,244.6 347.5,244.5 348.0,244.2 348.5,243.0 349.0,240.4 349.5,240.6 350.0,238.5 350.5,237.4 351.0,234.9 351.5,233.9 352.0,234.0 352.5,233.2 353.0,232.5 353.5,232.0 354.0,231.8 354.5,231.6 355.0,232.3 355.5,235.4 356.0,235.1 356.5,236.6 357.0,237.8 357.5,240.2 358.0,242.1 358.5,241.7 359.0,242.9 359.5,244.3 360.0,244.2 360.5,246.7 361.0,247.6 361.5,247.5 362.0,247.2 362.5,249.1 363.0,248.3 363.5,247.9 364.0,250.2 364.5,249.7 365.0,249.8 365.5,250.6 366.0,251.3 366.5,251.4 367.0,250.4 367.5,250.4 368.0,251.6 368.5,252.2 369.0,250.8 369.5,251.0 370.0,252.4 370.5,251.8 371.0,250.8 371.5,250.9 372.0,252.2 372.5,252.4 373.0,252.2 373.5,253.0 374.0,253.1 374.5,253.1 375.0,252.1 375.5,253.0 376.0,252.6 376.5,253.0 377.0,252.8 377.5,253.4 378.0,253.5 378.5,251.2 379.0,253.2 379.5,253.6 380.0,252.7 380.5,252.2 381.0,253.6 381.5,252.9 382.0,253.5 382.5,253.1 383.0,253.8 383.5,253.8 384.0,251.5 384.5,252.0 385.0,253.3 385.5,253.1 386.0,253.7 386.5,252.4 387.0,253.5 387.5,251.8 388.0,252.5 388.5,252.4 389.0,251.7 389.5,253.8 390.0,254.0 390.5,253.9 391.0,253.9 391.5,254.0 392.0,254.0 392.5,253.3 393.0,252.2 393.5,253.6 394.0,251.9 394.5,252.1 395.0,254.1 395.5,253.2 396.0,253.7 396.5,254.1 397.0,251.9 397.5,254.0 398.0,253.4 398.5,253.1 399.0,251.9 399.5,253.1 400.0,253.8 400.5,253.7 401.0,254.1 401.5,251.9 402.0,251.8 402.5,254.1 403.0,254.2 403.5,254.0 404.0,253.9 404.5,252.2 405.0,252.2 405.5,252.5 406.0,254.2 406.5,252.7 407.0,253.0 407.5,253.2 408.0,251.9 408.5,254.2 409.0,254.2 409.5,252.9 410.0,252.1 410.5,253.1 411.0,254.0 411.5,253.4 412.0,252.9 412.5,254.2 412.5,262.7 412.0,262.7 411.5,262.7 411.0,262.7 410.5,262.7 410.0,262.7 409.5,262.7 409.0,262.7 408.5,262.7 408.0,262.7 407.5,262.7 407.0,262.7 406.5,262.7 406.0,262.7 405.5,262.7 405.0,262.7 404.5,262.7 404.0,262.7 403.5,262.7 403.0,262.7 402.5,262.7 402.0,262.7 401.5,262.6 401.0,262.6 400.5,262.6 400.0,262.6 399.5,262.6 399.0,262.6 398.5,262.6 398.0,262.6 397.5,262.6 397.0,262.6 396.5,262.6 396.0,262.6 395.5,262.6 395.0,262.6 394.5,262.6 394.0,262.6 393.5,262.6 393.0,262.6 392.5,262.6 392.0,262.6 391.5,262.6 391.0,262.6 390.5,262.6 390.0,262.6 389.5,262.6 389.0,262.6 388.5,262.6 388.0,262.6 387.5,262.6 387.0,262.6 386.5,262.6 386.0,262.6 385.5,262.6 385.0,262.6 384.5,262.6 384.0,262.6 383.5,262.6 383.0,262.6 382.5,262.6 382.0,262.6 381.5,262.6 381.0,262.6 380.5,262.6 380.0,262.5 379.5,262.5 379.0,262.5 378.5,262.5 378.0,262.5 377.5,262.5 377.0,262.5 376.5,262.5 376.0,262.5 375.5,262.5 375.0,262.5 374.5,262.5 374.0,262.5 373.5,262.4 373.0,262.4 372.5,262.4 372.0,262.4 371.5,262.4 371.0,262.4 370.5,262.4 370.0,262.4 369.5,262.3 369.0,262.3 368.5,262.3 368.0,262.3 367.5,262.3 367.0,262.2 366.5,262.2 366.0,262.2 365.5,262.2 365.0,262.1 364.5,262.1 364.0,262.1 363.5,262.0 363.0,262.0 362.5,261.9 362.0,261.9 361.5,261.9 361.0,261.8 360.5,261.8 360.0,261.7 359.5,261.7 359.0,261.6 358.5,261.6 358.0,261.5 357.5,261.4 357.0,261.4 356.5,261.3 356.0,261.3 355.5,261.3 355.0,261.2 354.5,261.2 354.0,261.2 353.5,261.2 353.0,261.2 352.5,261.2 352.0,261.2 351.5,261.3 351.0,261.3 350.5,261.3 350.0,261.4 349.5,261.4 349.0,261.5 348.5,261.6 348.0,261.6 347.5,261.7 347.0,261.7 346.5,261.8 346.0,261.8 345.5,261.9 345.0,261.9 344.5,261.9 344.0,262.0 343.5,262.0 343.0,262.1 342.5,262.1 342.0,262.1 341.5,262.2 341.0,262.2 340.5,262.2 340.0,262.2 339.5,262.3 339.0,262.3 338.5,262.3 338.0,262.3 337.5,262.3 337.0,262.4 336.5,262.4 336.0,262.4 335.5,262.4 335.0,262.4 334.5,262.4 334.0,262.4 333.5,262.4 333.0,262.5 332.5,262.5 332.0,262.5 331.5,262.5 331.0,262.5 330.5,262.5 330.0,262.5 329.5,262.5 329.0,262.5 328.5,262.5 328.0,262.5 327.5,262.5 327.0,262.5 326.5,262.6 326.0,262.6 325.5,262.6 325.0,262.6 324.5,262.6 324.0,262.6 323.5,262.6 323.0,262.6 322.5,262.6 322.0,262.6 321.5,262.6 321.0,262.6 320.5,262.6 320.0,262.6 319.5,262.6 319.0,262.6 318.5,262.6 318.0,262.6 317.5,262.6 317.0,262.6 316.5,262.6 316.0,262.6 315.5,262.6 315.0,262.6 314.5,262.6 314.0,262.6 313.5,262.6 313.0,262.6" fill="#000"/>
<polygon points="313.0,253.6 313.5,253.0 314.0,253.2 314.5,253.1 315.0,252.7 315.5,253.2 316.0,255.4 316.5,255.4 317.0,255.3 317.5,254.0 318.0,255.4 318.5,254.5 319.0,253.7 319.5,254.1 320.0,253.1 320.5,252.8 321.0,254.3 321.5,255.2 322.0,253.9 322.5,253.4 323.0,253.6 323.5,254.1 324.0,255.3 324.5,255.5 325.0,255.3 325.5,253.2 326.0,253.5 326.5,253.2 327.0,255.6 327.5,255.4 328.0,253.5 328.5,252.8 329.0,253.5 329.5,252.6 330.0,253.6 330.5,252.6 331.0,254.1 331.5,253.9 332.0,253.2 332.5,253.0 333.0,254.8 333.5,253.1 334.0,252.8 334.5,254.0 335.0,253.1 335.5,254.6 336.0,254.2 336.5,252.7 337.0,253.7 337.5,252.6 338.0,253.5 338.5,255.0 339.0,252.5 339.5,253.8 340.0,253.2 340.5,254.9 341.0,252.8 341.5,254.1 342.0,253.9 342.5,253.8 343.0,254.4 343.5,254.8 344.0,254.4 344.5,254.5 345.0,254.8 345.5,253.6 346.0,253.7 346.5,252.1 347.0,252.7 347.5,252.3 348.0,254.4 348.5,252.2 349.0,252.5 349.5,253.7 350.0,253.4 350.5,252.1 351.0,253.9 351.5,252.1 352.0,253.2 352.5,252.1 353.0,252.1 353.5,254.3 354.0,253.4 354.5,252.2 355.0,254.5 355.5,253.0 356.0,253.3 356.5,254.6 357.0,252.8 357.5,252.9 358.0,254.8 358.5,254.7 359.0,254.5 359.5,253.6 360.0,254.8 360.5,253.3 361.0,253.2 361.5,252.3 362.0,253.7 362.5,252.6 363.0,254.6 363.5,254.2 364.0,254.9 364.5,252.4 365.0,253.1 365.5,253.2 366.0,255.1 366.5,253.1 367.0,253.7 367.5,253.3 368.0,254.4 368.5,254.2 369.0,254.0 369.5,253.9 370.0,252.9 370.5,252.9 371.0,253.7 371.5,253.2 372.0,254.1 372.5,254.3 373.0,254.5 373.5,254.7 374.0,254.2 374.5,254.0 375.0,253.3 375.5,254.1 376.0,254.3 376.5,253.6 377.0,253.3 377.5,254.1 378.0,255.5 378.5,254.9 379.0,252.8 379.5,253.9 380.0,253.8 380.5,254.8 381.0,253.3 381.5,254.8 382.0,253.6 382.5,254.6 383.0,255.2 383.5,254.2 384.0,254.8 384.5,254.0 385.0,254.8 385.5,253.0 386.0,252.6 386.5,254.4 387.0,255.5 387.5,253.9 388.0,255.3 388.5,253.8 389.0,254.0 389.5,253.5 390.0,254.3 390.5,253.6 391.0,255.2 391.5,254.0 392.0,253.6 392.5,254.4 393.0,252.9 393.5,253.6 394.0,255.2 394.5,253.3 395.0,255.4 395.5,252.8 396.0,254.1 396.5,255.0 397.0,255.7 397.5,254.2 398.0,253.8 398.5,254.4 399.0,255.5 399.5,254.2 400.0,253.8 400.5,254.3 401.0,255.3 401.5,254.1 402.0,254.5 402.5,253.7 403.0,255.1 403.5,253.6 404.0,255.1 404.5,253.0 405.0,254.7 405.5,255.6 406.0,253.9 406.5,253.5 407.0,254.2 407.5,253.2 408.0,254.5 408.5,255.7 409.0,252.8 409.5,255.0 410.0,254.7 410.5,253.6 411.0,254.4 411.5,253.3 412.0,254.3 412.5,254.6 412.5,262.8 412.0,263.5 411.5,262.9 411.0,262.2 410.5,261.4 410.0,263.8 409.5,263.4 409.0,263.2 408.5,262.4 408.0,263.3 407.5,262.4 407.0,263.6 406.5,262.9 406.0,263.7 405.5,261.1 405.0,261.5 404.5,261.0 404.0,262.9 403.5,260.5 403.0,263.7 402.5,262.8 402.0,260.4 401.5,263.1 401.0,260.6 400.5,262.6 400.0,263.2 399.5,263.7 399.0,262.2 398.5,263.3 398.0,263.3 397.5,262.1 397.0,262.8 396.5,262.8 396.0,260.9 395.5,262.6 395.0,263.7 394.5,263.1 394.0,260.6 393.5,261.3 393.0,260.8 392.5,262.6 392.0,263.7 391.5,263.6 391.0,262.9 390.5,261.6 390.0,263.2 389.5,263.2 389.0,261.9 388.5,263.0 388.0,262.5 387.5,261.6 387.0,262.6 386.5,262.9 386.0,261.7 385.5,261.1 385.0,260.8 384.5,261.6 384.0,261.7 383.5,261.8 383.0,261.4 382.5,262.4 382.0,263.2 381.5,263.6 381.0,260.5 380.5,263.6 380.0,263.0 379.5,263.6 379.0,261.1 378.5,263.5 378.0,263.3 377.5,263.3 377.0,262.6 376.5,261.1 376.0,263.6 375.5,263.1 375.0,263.4 374.5,263.2 374.0,262.3 373.5,262.8 373.0,263.4 372.5,262.4 372.0,261.1 371.5,263.5 371.0,263.2 370.5,263.2 370.0,263.4 369.5,262.5 369.0,263.2 368.5,260.3 368.0,263.3 367.5,263.0 367.0,260.3 366.5,262.4 366.0,262.0 365.5,262.3 365.0,261.7 364.5,261.8 364.0,260.5 363.5,260.9 363.0,260.1 362.5,259.9 362.0,263.0 361.5,262.3 361.0,262.0 360.5,261.5 360.0,262.6 359.5,259.6 359.0,262.7 358.5,260.4 358.0,260.4 357.5,261.9 357.0,262.3 356.5,260.4 356.0,261.9 355.5,260.0 355.0,261.8 354.5,260.0 354.0,260.4 353.5,262.2 353.0,261.1 352.5,261.8 352.0,262.1 351.5,261.5 351.0,262.4 350.5,259.9 350.0,260.8 349.5,261.4 349.0,262.6 348.5,261.0 348.0,262.7 347.5,262.5 347.0,262.7 346.5,259.7 346.0,261.9 345.5,262.1 345.0,259.9 344.5,263.0 344.0,262.6 343.5,262.8 343.0,260.9 342.5,263.1 342.0,262.6 341.5,263.3 341.0,262.8 340.5,262.9 340.0,263.2 339.5,260.8 339.0,260.6 338.5,262.6 338.0,261.0 337.5,261.2 337.0,261.7 336.5,261.6 336.0,263.3 335.5,261.3 335.0,262.2 334.5,263.3 334.0,262.3 333.5,263.5 333.0,261.8 332.5,263.5 332.0,262.5 331.5,260.8 331.0,263.5 330.5,261.2 330.0,263.5 329.5,261.4 329.0,260.4 328.5,261.8 328.0,260.9 327.5,263.6 327.0,260.3 326.5,263.2 326.0,263.4 325.5,262.9 325.0,262.1 324.5,263.7 324.0,263.6 323.5,263.3 323.0,263.6 322.5,261.3 322.0,263.6 321.5,263.4 321.0,263.6 320.5,262.0 320.0,263.5 319.5,262.4 319.0,261.4 318.5,263.0 318.0,261.3 317.5,263.7 317.0,263.6 316.5,261.2 316.0,263.6 315.5,263.7 315.0,262.0 314.5,262.2 314.0,263.5 313.5,262.9 313.0,263.5" fill="#f00000"/>
<path d="M 350.3 255.2 Q 352.2 252.7 352.4 245.2 L 352.7 160.0 L 354.3 160.0 L 354.6 245.2 Q 354.8 252.7 356.7 255.2 Z" fill="#f00000" stroke="none" stroke-width="1"/>
</g>
<rect x="313.00" y="165.00" width="99.70" height="99.00" fill="none" stroke="#000" stroke-width="1.4"/>
<line x1="313.00" y1="169.40" x2="315.20" y2="169.40" stroke="#000" stroke-width="0.9"/>
<text x="310.40" y="172.50" font-size="9.0" text-anchor="end" fill="#2a2a2a" font-weight="normal" font-style="normal">10</text>
<line x1="313.00" y1="187.70" x2="315.20" y2="187.70" stroke="#000" stroke-width="0.9"/>
<text x="310.40" y="190.80" font-size="9.0" text-anchor="end" fill="#2a2a2a" font-weight="normal" font-style="normal">0</text>
<line x1="313.00" y1="205.90" x2="315.20" y2="205.90" stroke="#000" stroke-width="0.9"/>
<text x="310.40" y="209.00" font-size="9.0" text-anchor="end" fill="#2a2a2a" font-weight="normal" font-style="normal">-10</text>
<line x1="313.00" y1="224.20" x2="315.20" y2="224.20" stroke="#000" stroke-width="0.9"/>
<text x="310.40" y="227.30" font-size="9.0" text-anchor="end" fill="#2a2a2a" font-weight="normal" font-style="normal">-20</text>
<line x1="313.00" y1="242.40" x2="315.20" y2="242.40" stroke="#000" stroke-width="0.9"/>
<text x="310.40" y="245.50" font-size="9.0" text-anchor="end" fill="#2a2a2a" font-weight="normal" font-style="normal">-30</text>
<line x1="313.00" y1="260.50" x2="315.20" y2="260.50" stroke="#000" stroke-width="0.9"/>
<text x="310.40" y="263.60" font-size="9.0" text-anchor="end" fill="#2a2a2a" font-weight="normal" font-style="normal">-40</text>
<line x1="313.00" y1="178.55" x2="314.40" y2="178.55" stroke="#000" stroke-width="0.8"/>
<line x1="313.00" y1="196.85" x2="314.40" y2="196.85" stroke="#000" stroke-width="0.8"/>
<line x1="313.00" y1="215.15" x2="314.40" y2="215.15" stroke="#000" stroke-width="0.8"/>
<line x1="313.00" y1="233.45" x2="314.40" y2="233.45" stroke="#000" stroke-width="0.8"/>
<line x1="313.00" y1="251.75" x2="314.40" y2="251.75" stroke="#000" stroke-width="0.8"/>
<text x="314.30" y="273.00" font-size="8.5" text-anchor="middle" fill="#222" font-weight="normal" font-style="normal">5.242</text>
<text x="354.80" y="273.00" font-size="8.5" text-anchor="middle" fill="#222" font-weight="normal" font-style="normal">5.261</text>
<text x="394.70" y="273.00" font-size="8.5" text-anchor="middle" fill="#222" font-weight="normal" font-style="normal">5.282</text>
<line x1="314.20" y1="264.00" x2="314.20" y2="261.80" stroke="#000" stroke-width="0.8"/>
<line x1="314.20" y1="165.00" x2="314.20" y2="167.20" stroke="#000" stroke-width="0.8"/>
<line x1="324.25" y1="264.00" x2="324.25" y2="262.60" stroke="#000" stroke-width="0.8"/>
<line x1="324.25" y1="165.00" x2="324.25" y2="166.40" stroke="#000" stroke-width="0.8"/>
<line x1="334.30" y1="264.00" x2="334.30" y2="261.80" stroke="#000" stroke-width="0.8"/>
<line x1="334.30" y1="165.00" x2="334.30" y2="167.20" stroke="#000" stroke-width="0.8"/>
<line x1="344.35" y1="264.00" x2="344.35" y2="262.60" stroke="#000" stroke-width="0.8"/>
<line x1="344.35" y1="165.00" x2="344.35" y2="166.40" stroke="#000" stroke-width="0.8"/>
<line x1="354.40" y1="264.00" x2="354.40" y2="261.80" stroke="#000" stroke-width="0.8"/>
<line x1="354.40" y1="165.00" x2="354.40" y2="167.20" stroke="#000" stroke-width="0.8"/>
<line x1="364.45" y1="264.00" x2="364.45" y2="262.60" stroke="#000" stroke-width="0.8"/>
<line x1="364.45" y1="165.00" x2="364.45" y2="166.40" stroke="#000" stroke-width="0.8"/>
<line x1="374.50" y1="264.00" x2="374.50" y2="261.80" stroke="#000" stroke-width="0.8"/>
<line x1="374.50" y1="165.00" x2="374.50" y2="167.20" stroke="#000" stroke-width="0.8"/>
<line x1="384.55" y1="264.00" x2="384.55" y2="262.60" stroke="#000" stroke-width="0.8"/>
<line x1="384.55" y1="165.00" x2="384.55" y2="166.40" stroke="#000" stroke-width="0.8"/>
<line x1="394.60" y1="264.00" x2="394.60" y2="261.80" stroke="#000" stroke-width="0.8"/>
<line x1="394.60" y1="165.00" x2="394.60" y2="167.20" stroke="#000" stroke-width="0.8"/>
<line x1="404.65" y1="264.00" x2="404.65" y2="262.60" stroke="#000" stroke-width="0.8"/>
<line x1="404.65" y1="165.00" x2="404.65" y2="166.40" stroke="#000" stroke-width="0.8"/>
<text x="358.20" y="284.70" font-size="12.7" text-anchor="middle" fill="#111" font-weight="normal" font-style="normal" stroke="#000" stroke-width="0.15"><tspan font-style="italic">f</tspan><tspan font-style="italic" font-size="9.6" dy="2.6">sen</tspan><tspan font-style="normal" dy="-2.6"> (GHz)</tspan></text>
<text x="293.60" y="216.00" font-size="9.8" text-anchor="middle" fill="#222" font-weight="normal" font-style="normal" transform="rotate(-90 293.60 216.00)">Sf (dBm/MHz)</text>
<text x="314.80" y="176.50" font-size="9.2" text-anchor="start" fill="#222" font-weight="normal" font-style="normal"><tspan font-style="italic">m</tspan><tspan font-style="italic" font-size="6.6" dy="1.7">sen</tspan><tspan dy="-1.7"> = 7</tspan></text>
<text x="330.00" y="215.80" font-size="9.2" text-anchor="middle" fill="#222" font-weight="normal" font-style="normal" transform="rotate(-90 330.00 215.80)"><tspan font-style="italic">f</tspan><tspan font-style="italic" font-size="6.6" dy="1.6">inj</tspan><tspan dy="-1.6"> = 5.26 GHz</tspan></text>
<path d="M 381.2 184.2 L 381.2 208.9 L 409.2 208.9" fill="none" stroke="#000" stroke-width="1.3"/>
<polyline points="381.20,208.15 381.67,207.94 382.13,207.86 382.60,207.71 383.07,207.73 383.53,208.03 384.00,207.70 384.47,207.70 384.93,207.74 385.40,207.91 385.87,208.06 386.33,207.96 386.80,208.05 387.27,207.68 387.73,207.66 388.20,208.04 388.67,207.81 389.13,208.01 389.60,207.82 390.07,207.72 390.53,207.71 391.00,207.45 391.47,207.38 391.93,206.09 392.40,203.76 392.87,200.20 393.33,195.39 393.80,190.29 394.27,187.21 394.73,186.37 395.20,188.97 395.67,193.23 396.13,198.34 396.60,202.34 397.07,205.03 397.53,207.01 398.00,207.68 398.47,207.68 398.93,208.07 399.40,208.05 399.87,207.80 400.33,207.95 400.80,208.13 401.27,207.90 401.73,208.12 402.20,207.77 402.67,207.84 403.13,208.01 403.60,207.76 404.07,207.80 404.53,208.09 405.00,207.89 405.47,208.05 405.93,207.77 406.40,207.74 406.87,207.83 407.33,207.74 407.80,208.14 408.27,207.80 408.73,207.93 409.20,207.71" fill="none" stroke="#f00000" stroke-width="1.3"/>
<text x="379.40" y="193.60" font-size="7.2" text-anchor="end" fill="#222" font-weight="normal" font-style="normal">8</text>
<line x1="381.20" y1="191.10" x2="382.70" y2="191.10" stroke="#000" stroke-width="0.8"/>
<text x="379.40" y="201.60" font-size="7.2" text-anchor="end" fill="#222" font-weight="normal" font-style="normal">4</text>
<line x1="381.20" y1="199.10" x2="382.70" y2="199.10" stroke="#000" stroke-width="0.8"/>
<text x="379.40" y="209.10" font-size="7.2" text-anchor="end" fill="#222" font-weight="normal" font-style="normal">0</text>
<line x1="381.20" y1="206.60" x2="382.70" y2="206.60" stroke="#000" stroke-width="0.8"/>
<text x="386.00" y="217.90" font-size="7.6" text-anchor="middle" fill="#222" font-weight="normal" font-style="normal">-3</text>
<text x="394.50" y="217.90" font-size="7.6" text-anchor="middle" fill="#222" font-weight="normal" font-style="normal">0</text>
<text x="402.80" y="217.90" font-size="7.6" text-anchor="middle" fill="#222" font-weight="normal" font-style="normal">3</text>
<text x="393.60" y="227.20" font-size="9.0" text-anchor="middle" fill="#222" font-weight="normal" font-style="normal"><tspan font-style="italic">Δf</tspan> (Hz)</text>
<text x="369.90" y="197.40" font-size="9.0" text-anchor="middle" fill="#222" font-weight="normal" font-style="normal" transform="rotate(-90 369.90 197.40)">Sf (mW/MHz)</text>
<text x="285.30" y="163.40" font-size="15" text-anchor="start" fill="#000" font-weight="bold" font-style="normal">f</text>
<clipPath id="clipsg"><rect x="313.0" y="301.0" width="99.69999999999999" height="99.60000000000002"/></clipPath>
<g clip-path="url(#clipsg)">
<polygon points="313.0,387.1 313.5,387.4 314.0,387.4 314.5,387.7 315.0,387.7 315.5,386.1 316.0,387.4 316.5,387.6 317.0,387.6 317.5,387.5 318.0,387.6 318.5,387.7 319.0,386.6 319.5,387.4 320.0,387.6 320.5,386.4 321.0,387.6 321.5,387.4 322.0,385.9 322.5,387.6 323.0,387.1 323.5,385.9 324.0,386.0 324.5,387.5 325.0,387.2 325.5,386.3 326.0,387.2 326.5,385.3 327.0,387.4 327.5,385.3 328.0,386.8 328.5,387.3 329.0,386.9 329.5,387.3 330.0,386.1 330.5,387.1 331.0,385.3 331.5,386.4 332.0,386.9 332.5,387.0 333.0,386.3 333.5,387.0 334.0,385.2 334.5,387.0 335.0,386.3 335.5,386.2 336.0,386.7 336.5,385.4 337.0,386.4 337.5,385.6 338.0,385.8 338.5,386.3 339.0,386.1 339.5,386.3 340.0,386.2 340.5,384.4 341.0,385.7 341.5,384.8 342.0,385.7 342.5,384.8 343.0,385.0 343.5,384.5 344.0,384.7 344.5,384.6 345.0,384.1 345.5,383.9 346.0,383.6 346.5,381.9 347.0,382.5 347.5,381.7 348.0,379.4 348.5,379.1 349.0,377.8 349.5,376.7 350.0,377.2 350.5,375.5 351.0,373.8 351.5,370.5 352.0,367.9 352.5,365.7 353.0,362.2 353.5,358.0 354.0,354.3 354.5,352.3 355.0,348.8 355.5,349.7 356.0,350.2 356.5,353.5 357.0,356.9 357.5,358.5 358.0,362.7 358.5,366.0 359.0,370.1 359.5,372.5 360.0,374.5 360.5,376.2 361.0,377.5 361.5,378.6 362.0,380.0 362.5,380.7 363.0,380.7 363.5,382.2 364.0,381.2 364.5,382.6 365.0,382.5 365.5,384.0 366.0,384.0 366.5,383.6 367.0,384.7 367.5,385.2 368.0,383.8 368.5,384.2 369.0,385.6 369.5,385.9 370.0,384.3 370.5,385.3 371.0,386.3 371.5,386.2 372.0,386.4 372.5,385.1 373.0,386.5 373.5,384.7 374.0,385.4 374.5,386.8 375.0,385.7 375.5,386.6 376.0,385.7 376.5,385.4 377.0,386.9 377.5,387.1 378.0,385.0 378.5,386.8 379.0,385.2 379.5,386.1 380.0,386.0 380.5,385.7 381.0,386.4 381.5,386.9 382.0,387.4 382.5,386.2 383.0,387.0 383.5,386.8 384.0,385.4 384.5,387.4 385.0,386.1 385.5,387.5 386.0,386.4 386.5,386.0 387.0,387.4 387.5,386.9 388.0,385.3 388.5,386.6 389.0,386.9 389.5,387.5 390.0,387.6 390.5,387.3 391.0,387.2 391.5,387.6 392.0,387.4 392.5,387.6 393.0,386.5 393.5,386.6 394.0,387.6 394.5,387.6 395.0,387.1 395.5,387.3 396.0,385.6 396.5,387.4 397.0,387.5 397.5,385.9 398.0,387.7 398.5,387.0 399.0,387.5 399.5,386.2 400.0,387.1 400.5,386.4 401.0,387.7 401.5,386.7 402.0,386.9 402.5,387.3 403.0,386.4 403.5,386.2 404.0,387.8 404.5,387.6 405.0,387.5 405.5,387.7 406.0,387.8 406.5,387.6 407.0,387.7 407.5,386.7 408.0,387.4 408.5,387.8 409.0,387.6 409.5,387.3 410.0,387.5 410.5,387.8 411.0,387.8 411.5,387.9 412.0,385.5 412.5,386.5 412.5,396.6 412.0,396.6 411.5,396.6 411.0,396.5 410.5,396.5 410.0,396.5 409.5,396.5 409.0,396.5 408.5,396.5 408.0,396.5 407.5,396.4 407.0,396.4 406.5,396.4 406.0,396.4 405.5,396.4 405.0,396.4 404.5,396.4 404.0,396.3 403.5,396.3 403.0,396.3 402.5,396.3 402.0,396.3 401.5,396.2 401.0,396.2 400.5,396.2 400.0,396.2 399.5,396.2 399.0,396.1 398.5,396.1 398.0,396.1 397.5,396.1 397.0,396.0 396.5,396.0 396.0,396.0 395.5,396.0 395.0,395.9 394.5,395.9 394.0,395.9 393.5,395.8 393.0,395.8 392.5,395.8 392.0,395.7 391.5,395.7 391.0,395.7 390.5,395.6 390.0,395.6 389.5,395.6 389.0,395.5 388.5,395.5 388.0,395.4 387.5,395.4 387.0,395.3 386.5,395.3 386.0,395.2 385.5,395.2 385.0,395.1 384.5,395.1 384.0,395.0 383.5,395.0 383.0,394.9 382.5,394.9 382.0,394.8 381.5,394.7 381.0,394.7 380.5,394.6 380.0,394.5 379.5,394.4 379.0,394.4 378.5,394.3 378.0,394.2 377.5,394.1 377.0,394.0 376.5,393.9 376.0,393.8 375.5,393.7 375.0,393.6 374.5,393.5 374.0,393.4 373.5,393.3 373.0,393.2 372.5,393.1 372.0,393.0 371.5,392.9 371.0,392.7 370.5,392.6 370.0,392.5 369.5,392.3 369.0,392.2 368.5,392.1 368.0,391.9 367.5,391.8 367.0,391.6 366.5,391.5 366.0,391.4 365.5,391.2 365.0,391.1 364.5,390.9 364.0,390.8 363.5,390.6 363.0,390.5 362.5,390.4 362.0,390.2 361.5,390.1 361.0,390.0 360.5,389.9 360.0,389.8 359.5,389.7 359.0,389.6 358.5,389.5 358.0,389.5 357.5,389.4 357.0,389.4 356.5,389.3 356.0,389.3 355.5,389.3 355.0,389.3 354.5,389.3 354.0,389.3 353.5,389.4 353.0,389.4 352.5,389.5 352.0,389.6 351.5,389.7 351.0,389.8 350.5,389.9 350.0,390.0 349.5,390.1 349.0,390.2 348.5,390.3 348.0,390.5 347.5,390.6 347.0,390.7 346.5,390.9 346.0,391.0 345.5,391.2 345.0,391.3 344.5,391.4 344.0,391.6 343.5,391.7 343.0,391.9 342.5,392.0 342.0,392.2 341.5,392.3 341.0,392.4 340.5,392.6 340.0,392.7 339.5,392.8 339.0,392.9 338.5,393.0 338.0,393.2 337.5,393.3 337.0,393.4 336.5,393.5 336.0,393.6 335.5,393.7 335.0,393.8 334.5,393.9 334.0,394.0 333.5,394.1 333.0,394.2 332.5,394.2 332.0,394.3 331.5,394.4 331.0,394.5 330.5,394.6 330.0,394.6 329.5,394.7 329.0,394.8 328.5,394.8 328.0,394.9 327.5,394.9 327.0,395.0 326.5,395.1 326.0,395.1 325.5,395.2 325.0,395.2 324.5,395.3 324.0,395.3 323.5,395.4 323.0,395.4 322.5,395.5 322.0,395.5 321.5,395.5 321.0,395.6 320.5,395.6 320.0,395.7 319.5,395.7 319.0,395.7 318.5,395.8 318.0,395.8 317.5,395.8 317.0,395.9 316.5,395.9 316.0,395.9 315.5,395.9 315.0,396.0 314.5,396.0 314.0,396.0 313.5,396.1 313.0,396.1" fill="#000"/>
<polygon points="313.0,386.1 313.5,388.8 314.0,386.1 314.5,387.1 315.0,387.4 315.5,388.5 316.0,387.6 316.5,387.7 317.0,386.4 317.5,385.8 318.0,388.2 318.5,386.2 319.0,388.1 319.5,386.1 320.0,388.0 320.5,386.5 321.0,388.0 321.5,386.6 322.0,386.5 322.5,386.1 323.0,387.1 323.5,387.8 324.0,388.0 324.5,386.8 325.0,385.7 325.5,387.0 326.0,387.2 326.5,386.5 327.0,385.4 327.5,386.4 328.0,387.2 328.5,387.5 329.0,387.3 329.5,385.7 330.0,386.4 330.5,385.8 331.0,386.7 331.5,387.4 332.0,385.5 332.5,386.3 333.0,385.1 333.5,385.4 334.0,387.3 334.5,386.9 335.0,387.1 335.5,386.6 336.0,386.1 336.5,384.9 337.0,386.8 337.5,385.8 338.0,384.8 338.5,383.8 339.0,385.7 339.5,383.8 340.0,384.6 340.5,384.6 341.0,385.0 341.5,383.5 342.0,385.8 342.5,383.3 343.0,383.7 343.5,384.4 344.0,384.2 344.5,383.3 345.0,382.8 345.5,384.2 346.0,383.5 346.5,383.5 347.0,383.8 347.5,384.3 348.0,384.9 348.5,382.1 349.0,382.9 349.5,384.5 350.0,383.9 350.5,383.8 351.0,382.1 351.5,381.4 352.0,381.9 352.5,383.4 353.0,383.9 353.5,383.8 354.0,383.9 354.5,381.6 355.0,382.1 355.5,383.1 356.0,381.5 356.5,383.3 357.0,383.3 357.5,383.0 358.0,382.9 358.5,381.6 359.0,383.3 359.5,382.0 360.0,384.0 360.5,381.9 361.0,381.9 361.5,382.2 362.0,382.6 362.5,383.0 363.0,384.6 363.5,384.1 364.0,385.0 364.5,383.3 365.0,383.8 365.5,384.8 366.0,383.1 366.5,384.7 367.0,384.2 367.5,385.4 368.0,385.6 368.5,383.3 369.0,383.8 369.5,385.0 370.0,383.8 370.5,384.8 371.0,384.7 371.5,383.6 372.0,384.7 372.5,385.1 373.0,384.0 373.5,385.9 374.0,384.8 374.5,384.9 375.0,385.7 375.5,387.2 376.0,386.0 376.5,387.0 377.0,386.3 377.5,385.6 378.0,386.9 378.5,387.4 379.0,385.6 379.5,386.9 380.0,386.7 380.5,386.5 381.0,385.0 381.5,385.9 382.0,386.4 382.5,385.7 383.0,386.1 383.5,385.1 384.0,386.5 384.5,386.9 385.0,385.7 385.5,386.1 386.0,387.4 386.5,388.1 387.0,388.1 387.5,385.6 388.0,387.1 388.5,386.5 389.0,386.7 389.5,385.7 390.0,388.2 390.5,386.3 391.0,386.1 391.5,387.7 392.0,386.8 392.5,387.4 393.0,387.6 393.5,387.9 394.0,387.5 394.5,388.1 395.0,386.8 395.5,386.3 396.0,388.4 396.5,388.6 397.0,386.8 397.5,387.8 398.0,387.9 398.5,386.0 399.0,386.0 399.5,386.9 400.0,387.7 400.5,387.3 401.0,388.7 401.5,388.9 402.0,387.8 402.5,387.0 403.0,386.5 403.5,388.3 404.0,388.5 404.5,387.7 405.0,387.7 405.5,387.9 406.0,388.3 406.5,388.2 407.0,388.4 407.5,388.4 408.0,387.5 408.5,387.7 409.0,386.5 409.5,387.6 410.0,388.5 410.5,389.1 411.0,388.4 411.5,386.3 412.0,386.4 412.5,387.9 412.5,397.6 412.0,396.8 411.5,397.6 411.0,397.6 410.5,397.5 410.0,397.2 409.5,396.1 409.0,397.6 408.5,394.6 408.0,397.3 407.5,394.3 407.0,397.2 406.5,395.5 406.0,397.3 405.5,397.1 405.0,396.0 404.5,396.3 404.0,396.8 403.5,397.4 403.0,397.3 402.5,397.4 402.0,395.6 401.5,397.3 401.0,396.2 400.5,397.3 400.0,397.1 399.5,396.4 399.0,395.9 398.5,396.6 398.0,396.8 397.5,396.6 397.0,395.2 396.5,397.0 396.0,395.7 395.5,396.1 395.0,397.0 394.5,394.4 394.0,396.9 393.5,393.8 393.0,396.8 392.5,394.3 392.0,396.7 391.5,396.6 391.0,396.5 390.5,396.7 390.0,396.4 389.5,395.9 389.0,394.1 388.5,394.5 388.0,393.2 387.5,396.4 387.0,395.3 386.5,396.0 386.0,395.3 385.5,396.0 385.0,396.2 384.5,395.9 384.0,395.5 383.5,393.5 383.0,396.0 382.5,395.8 382.0,395.4 381.5,392.5 381.0,395.4 380.5,395.1 380.0,395.2 379.5,394.7 379.0,393.5 378.5,393.8 378.0,392.7 377.5,394.9 377.0,393.8 376.5,393.0 376.0,392.9 375.5,394.8 375.0,391.6 374.5,393.5 374.0,393.7 373.5,394.2 373.0,394.2 372.5,390.9 372.0,394.1 371.5,392.8 371.0,393.4 370.5,392.6 370.0,393.1 369.5,393.4 369.0,390.6 368.5,392.8 368.0,391.8 367.5,392.4 367.0,392.7 366.5,392.1 366.0,390.2 365.5,392.3 365.0,389.6 364.5,392.0 364.0,391.9 363.5,389.5 363.0,390.6 362.5,391.4 362.0,389.7 361.5,390.2 361.0,388.9 360.5,391.0 360.0,389.7 359.5,390.1 359.0,390.5 358.5,387.7 358.0,388.4 357.5,390.5 357.0,390.5 356.5,387.4 356.0,389.9 355.5,388.1 355.0,388.4 354.5,388.5 354.0,387.9 353.5,389.4 353.0,389.2 352.5,390.0 352.0,390.4 351.5,389.6 351.0,390.4 350.5,390.9 350.0,391.0 349.5,390.1 349.0,391.2 348.5,389.1 348.0,389.8 347.5,391.6 347.0,390.1 346.5,389.4 346.0,392.1 345.5,392.2 345.0,391.5 344.5,391.4 344.0,391.6 343.5,392.6 343.0,392.9 342.5,390.6 342.0,392.2 341.5,393.3 341.0,393.0 340.5,392.7 340.0,392.6 339.5,392.4 339.0,393.3 338.5,394.0 338.0,391.6 337.5,394.1 337.0,393.7 336.5,393.5 336.0,393.4 335.5,394.8 335.0,393.6 334.5,391.8 334.0,392.3 333.5,394.5 333.0,395.2 332.5,394.9 332.0,394.8 331.5,395.4 331.0,393.3 330.5,395.0 330.0,395.1 329.5,394.3 329.0,395.2 328.5,393.4 328.0,396.0 327.5,395.9 327.0,396.1 326.5,393.0 326.0,396.1 325.5,396.3 325.0,396.0 324.5,395.5 324.0,393.4 323.5,394.8 323.0,395.2 322.5,396.6 322.0,394.2 321.5,395.6 321.0,396.3 320.5,396.6 320.0,394.9 319.5,394.7 319.0,393.9 318.5,395.5 318.0,396.6 317.5,394.9 317.0,396.9 316.5,396.8 316.0,394.0 315.5,395.6 315.0,397.1 314.5,397.0 314.0,396.3 313.5,396.1 313.0,395.4" fill="#f00000"/>
<path d="M 352.2 384.6 Q 354.09999999999997 382.1 354.29999999999995 374.6 L 354.59999999999997 315.3 L 356.2 315.3 L 356.5 374.6 Q 356.7 382.1 358.59999999999997 384.6 Z" fill="#f00000" stroke="none" stroke-width="1"/>
</g>
<rect x="313.00" y="301.00" width="99.70" height="99.60" fill="none" stroke="#000" stroke-width="1.4"/>
<line x1="313.00" y1="311.90" x2="315.20" y2="311.90" stroke="#000" stroke-width="0.9"/>
<text x="310.40" y="315.00" font-size="9.0" text-anchor="end" fill="#2a2a2a" font-weight="normal" font-style="normal">0</text>
<line x1="313.00" y1="332.90" x2="315.20" y2="332.90" stroke="#000" stroke-width="0.9"/>
<text x="310.40" y="336.00" font-size="9.0" text-anchor="end" fill="#2a2a2a" font-weight="normal" font-style="normal">-10</text>
<line x1="313.00" y1="354.00" x2="315.20" y2="354.00" stroke="#000" stroke-width="0.9"/>
<text x="310.40" y="357.10" font-size="9.0" text-anchor="end" fill="#2a2a2a" font-weight="normal" font-style="normal">-20</text>
<line x1="313.00" y1="375.00" x2="315.20" y2="375.00" stroke="#000" stroke-width="0.9"/>
<text x="310.40" y="378.10" font-size="9.0" text-anchor="end" fill="#2a2a2a" font-weight="normal" font-style="normal">-30</text>
<line x1="313.00" y1="396.20" x2="315.20" y2="396.20" stroke="#000" stroke-width="0.9"/>
<text x="310.40" y="399.30" font-size="9.0" text-anchor="end" fill="#2a2a2a" font-weight="normal" font-style="normal">-40</text>
<line x1="313.00" y1="301.40" x2="314.40" y2="301.40" stroke="#000" stroke-width="0.8"/>
<line x1="313.00" y1="322.40" x2="314.40" y2="322.40" stroke="#000" stroke-width="0.8"/>
<line x1="313.00" y1="343.40" x2="314.40" y2="343.40" stroke="#000" stroke-width="0.8"/>
<line x1="313.00" y1="364.40" x2="314.40" y2="364.40" stroke="#000" stroke-width="0.8"/>
<line x1="313.00" y1="385.40" x2="314.40" y2="385.40" stroke="#000" stroke-width="0.8"/>
<text x="314.60" y="410.20" font-size="8.5" text-anchor="middle" fill="#222" font-weight="normal" font-style="normal">6.744</text>
<text x="355.10" y="410.20" font-size="8.5" text-anchor="middle" fill="#222" font-weight="normal" font-style="normal">6.764</text>
<text x="394.90" y="410.20" font-size="8.5" text-anchor="middle" fill="#222" font-weight="normal" font-style="normal">6.784</text>
<line x1="314.20" y1="400.60" x2="314.20" y2="398.40" stroke="#000" stroke-width="0.8"/>
<line x1="314.20" y1="301.00" x2="314.20" y2="303.20" stroke="#000" stroke-width="0.8"/>
<line x1="324.25" y1="400.60" x2="324.25" y2="399.20" stroke="#000" stroke-width="0.8"/>
<line x1="324.25" y1="301.00" x2="324.25" y2="302.40" stroke="#000" stroke-width="0.8"/>
<line x1="334.30" y1="400.60" x2="334.30" y2="398.40" stroke="#000" stroke-width="0.8"/>
<line x1="334.30" y1="301.00" x2="334.30" y2="303.20" stroke="#000" stroke-width="0.8"/>
<line x1="344.35" y1="400.60" x2="344.35" y2="399.20" stroke="#000" stroke-width="0.8"/>
<line x1="344.35" y1="301.00" x2="344.35" y2="302.40" stroke="#000" stroke-width="0.8"/>
<line x1="354.40" y1="400.60" x2="354.40" y2="398.40" stroke="#000" stroke-width="0.8"/>
<line x1="354.40" y1="301.00" x2="354.40" y2="303.20" stroke="#000" stroke-width="0.8"/>
<line x1="364.45" y1="400.60" x2="364.45" y2="399.20" stroke="#000" stroke-width="0.8"/>
<line x1="364.45" y1="301.00" x2="364.45" y2="302.40" stroke="#000" stroke-width="0.8"/>
<line x1="374.50" y1="400.60" x2="374.50" y2="398.40" stroke="#000" stroke-width="0.8"/>
<line x1="374.50" y1="301.00" x2="374.50" y2="303.20" stroke="#000" stroke-width="0.8"/>
<line x1="384.55" y1="400.60" x2="384.55" y2="399.20" stroke="#000" stroke-width="0.8"/>
<line x1="384.55" y1="301.00" x2="384.55" y2="302.40" stroke="#000" stroke-width="0.8"/>
<line x1="394.60" y1="400.60" x2="394.60" y2="398.40" stroke="#000" stroke-width="0.8"/>
<line x1="394.60" y1="301.00" x2="394.60" y2="303.20" stroke="#000" stroke-width="0.8"/>
<line x1="404.65" y1="400.60" x2="404.65" y2="399.20" stroke="#000" stroke-width="0.8"/>
<line x1="404.65" y1="301.00" x2="404.65" y2="302.40" stroke="#000" stroke-width="0.8"/>
<text x="362.10" y="422.60" font-size="12.7" text-anchor="middle" fill="#111" font-weight="normal" font-style="normal" stroke="#000" stroke-width="0.15"><tspan font-style="italic">f</tspan><tspan font-style="italic" font-size="9.6" dy="2.6">sen</tspan><tspan font-style="normal" dy="-2.6"> (GHz)</tspan></text>
<text x="293.60" y="354.00" font-size="9.8" text-anchor="middle" fill="#222" font-weight="normal" font-style="normal" transform="rotate(-90 293.60 354.00)">Sf (dBm/MHz)</text>
<text x="316.80" y="309.60" font-size="9.2" text-anchor="start" fill="#222" font-weight="normal" font-style="normal"><tspan font-style="italic">m</tspan><tspan font-style="italic" font-size="6.6" dy="1.7">sen</tspan><tspan dy="-1.7"> = 9</tspan></text>
<text x="333.00" y="352.00" font-size="9.2" text-anchor="middle" fill="#222" font-weight="normal" font-style="normal" transform="rotate(-90 333.00 352.00)"><tspan font-style="italic">f</tspan><tspan font-style="italic" font-size="6.6" dy="1.6">inj</tspan><tspan dy="-1.6"> = 5.26 GHz</tspan></text>
<path d="M 381.2 321.0 L 381.2 346.0 L 409.2 346.0" fill="none" stroke="#000" stroke-width="1.3"/>
<polyline points="381.20,345.22 381.67,344.93 382.13,344.82 382.60,344.84 383.07,345.12 383.53,345.21 384.00,344.83 384.47,344.76 384.93,345.14 385.40,344.87 385.87,345.24 386.33,345.00 386.80,345.07 387.27,344.92 387.73,345.15 388.20,344.98 388.67,344.91 389.13,345.20 389.60,344.80 390.07,345.10 390.53,344.72 391.00,344.86 391.47,344.31 391.93,343.55 392.40,341.20 392.87,338.28 393.33,333.99 393.80,329.90 394.27,326.84 394.73,326.08 395.20,328.00 395.67,331.99 396.13,336.41 396.60,340.18 397.07,342.54 397.53,343.88 398.00,344.78 398.47,344.96 398.93,344.87 399.40,345.24 399.87,344.86 400.33,345.03 400.80,344.83 401.27,345.18 401.73,345.18 402.20,344.88 402.67,345.13 403.13,345.16 403.60,344.89 404.07,344.92 404.53,344.99 405.00,345.20 405.47,344.83 405.93,345.09 406.40,345.05 406.87,344.98 407.33,345.04 407.80,345.19 408.27,344.85 408.73,345.19 409.20,344.93" fill="none" stroke="#f00000" stroke-width="1.3"/>
<text x="379.40" y="327.40" font-size="7.2" text-anchor="end" fill="#222" font-weight="normal" font-style="normal">0.4</text>
<line x1="381.20" y1="324.90" x2="382.70" y2="324.90" stroke="#000" stroke-width="0.8"/>
<text x="379.40" y="336.00" font-size="7.2" text-anchor="end" fill="#222" font-weight="normal" font-style="normal">0.2</text>
<line x1="381.20" y1="333.50" x2="382.70" y2="333.50" stroke="#000" stroke-width="0.8"/>
<text x="379.40" y="345.50" font-size="7.2" text-anchor="end" fill="#222" font-weight="normal" font-style="normal">0.0</text>
<line x1="381.20" y1="343.00" x2="382.70" y2="343.00" stroke="#000" stroke-width="0.8"/>
<text x="386.00" y="354.60" font-size="7.6" text-anchor="middle" fill="#222" font-weight="normal" font-style="normal">-3</text>
<text x="394.50" y="354.60" font-size="7.6" text-anchor="middle" fill="#222" font-weight="normal" font-style="normal">0</text>
<text x="402.80" y="354.60" font-size="7.6" text-anchor="middle" fill="#222" font-weight="normal" font-style="normal">3</text>
<text x="393.60" y="364.20" font-size="9.0" text-anchor="middle" fill="#222" font-weight="normal" font-style="normal"><tspan font-style="italic">Δf</tspan> (Hz)</text>
<text x="365.30" y="333.60" font-size="9.0" text-anchor="middle" fill="#222" font-weight="normal" font-style="normal" transform="rotate(-90 365.30 333.60)">Sf (mW/MHz)</text>
<text x="285.30" y="296.40" font-size="15" text-anchor="start" fill="#000" font-weight="bold" font-style="normal">g</text>
<rect x="479.60" y="21.60" width="32.60" height="3.60" fill="url(#cbar)" stroke="none" stroke-width="1"/>
<text x="479.60" y="17.80" font-size="7.4" text-anchor="middle" fill="#222" font-weight="normal" font-style="normal">-40</text>
<text x="496.30" y="17.80" font-size="7.4" text-anchor="middle" fill="#222" font-weight="normal" font-style="normal">-20</text>
<text x="512.00" y="17.80" font-size="7.4" text-anchor="middle" fill="#222" font-weight="normal" font-style="normal">0</text>
<text x="525.30" y="16.00" font-size="6.8" text-anchor="start" fill="#222" font-weight="bold" font-style="normal">Sf</text>
<text x="520.70" y="24.90" font-size="7.3" text-anchor="start" fill="#222" font-weight="normal" font-style="normal">(dBm/MHz)</text>
<clipPath id="cliph1"><rect x="453.4" y="28.5" width="100.80000000000007" height="100.7"/></clipPath>
<linearGradient id="bg1" gradientUnits="userSpaceOnUse" x1="453.4" x2="525.5" y1="0" y2="0"><stop offset="0" stop-color="#f01000"/><stop offset="0.5" stop-color="#f01000"/><stop offset="0.75" stop-color="#ff8a00" stop-opacity="1.0"/><stop offset="1" stop-color="#f4f018" stop-opacity="1.0"/></linearGradient>
<linearGradient id="bh1" gradientUnits="userSpaceOnUse" x1="453.4" x2="525.5" y1="0" y2="0"><stop offset="0" stop-color="#ff8a00"/><stop offset="0.6" stop-color="#ff8a00"/><stop offset="1" stop-color="#f4f018" stop-opacity="1.0"/></linearGradient>
<g clip-path="url(#cliph1)">
<rect x="453.40" y="28.50" width="100.80" height="100.70" fill="#08c4fc" stroke="none" stroke-width="1"/>
<g filter="url(#bl4)">
<path d="M 423.4 -1.5 L 517.5 -1.5 Q 537.5 52.5 534.5 92.5 Q 537.5 132.5 517.5 159.2 L 423.4 159.2 Z" fill="#08f0fc" stroke="none" stroke-width="1"/>
</g>
<g filter="url(#bl8)">
<path d="M 423.4 -1.5 L 495.5 -1.5 Q 527.5 52.5 523.5 92.5 Q 527.5 132.5 495.5 159.2 L 423.4 159.2 Z" fill="#1cfce4" stroke="none" stroke-width="1"/>
</g>
<g filter="url(#bl4)" opacity="0.9">
<path d="M 433.4 61.900000000000006 C 495.5 61.900000000000006 523.5 70.9 522.5 92.5 C 519.5 106.2 485.5 108.2 433.4 108.2 Z" fill="#60ff98" stroke="none" stroke-width="1"/>
</g>
<g filter="url(#bl2)" opacity="0.7">
<path d="M 433.4 71.9 L 485.5 71.9 Q 517.5 74.9 522.5 92.0 Q 515.5 98.2 433.4 98.7 Z" fill="#a8f860" stroke="none" stroke-width="1"/>
</g>
<g filter="url(#bl2)" opacity="0.5">
<path d="M 433.4 76.4 L 491.5 76.9 Q 515.5 80.9 522.5 92.2 L 433.4 94.2 Z" fill="#e8f030" stroke="none" stroke-width="1"/>
</g>
<g filter="url(#bl2)">
<path d="M 450.4 78.9 L 483.5 79.2 Q 513.5 80.30000000000001 525.5 92.5" fill="none" stroke="#f4f018" stroke-width="6.0"/>
</g>
<g filter="url(#bl1)">
<path d="M 450.4 78.9 L 483.5 79.2 Q 513.5 80.30000000000001 525.5 92.5" fill="none" stroke="url(#bh1)" stroke-width="3.4"/>
<path d="M 450.4 78.9 L 483.5 79.2 Q 513.5 80.30000000000001 525.5 92.5" fill="none" stroke="url(#bg1)" stroke-width="2.0"/>
</g>
<path d="M 450.4 78.9 L 495.5 79.2" fill="none" stroke="#7a0000" stroke-width="0.9" stroke-dasharray="3.5 2.5" opacity="0.7"/>
<g filter="url(#bl1)">
<path d="M 450.4 94.2 L 521.5 93.18 L 525.5 92.5" fill="none" stroke="#f0e020" stroke-width="1.1199999999999999"/>
<path d="M 522.5 92.5 L 557.2 92.4" fill="none" stroke="#f0e020" stroke-width="1.8"/>
</g>
<path d="M 450.4 94.2 L 521.5 93.18 L 525.5 92.5" fill="none" stroke="#f08000" stroke-width="0.5599999999999999"/>
<path d="M 522.5 92.5 L 557.2 92.4" fill="none" stroke="#f08000" stroke-width="0.9"/>
<path d="M 450.4 94.2 L 521.5 93.18 L 525.5 92.5 L 557.2 92.4" fill="none" stroke="#503000" stroke-width="0.8" stroke-dasharray="3 2.4" opacity="0.85"/>
<path d="M 453.4 46.8 L 473.4 46.8 C 495.5 46.8 526.0 60.51 525.5 91.5" fill="none" stroke="#08342c" stroke-width="1.0" stroke-dasharray="3.5 2.6" opacity="0.75"/>
<path d="M 453.4 62.8 L 473.4 62.8 C 495.5 62.8 526.0 71.71 525.5 91.5" fill="none" stroke="#08342c" stroke-width="1.0" stroke-dasharray="3.5 2.6" opacity="0.75"/>
<path d="M 453.4 110.4 L 473.4 110.4 C 495.5 110.4 526.0 105.03 525.5 91.5" fill="none" stroke="#08342c" stroke-width="1.0" stroke-dasharray="3.5 2.6" opacity="0.75"/>
<line x1="495.50" y1="78.90" x2="554.20" y2="78.90" stroke="#0a3a30" stroke-width="0.9" stroke-dasharray="3 2" opacity="0.85"/>
</g>
<rect x="453.40" y="28.50" width="100.80" height="100.70" fill="none" stroke="#2a7c7c" stroke-width="0.9"/>
<line x1="489.20" y1="66.40" x2="489.20" y2="72.60" stroke="#000" stroke-width="1.5"/>
<polygon points="489.20,78.10 485.80,72.10 492.60,72.10" fill="#000"/>
<line x1="489.20" y1="106.70" x2="489.20" y2="100.70" stroke="#000" stroke-width="1.5"/>
<polygon points="489.20,95.20 492.60,101.20 485.80,101.20" fill="#000"/>
<line x1="537.20" y1="66.40" x2="537.20" y2="72.60" stroke="#000" stroke-width="1.5"/>
<polygon points="537.20,78.10 533.80,72.10 540.60,72.10" fill="#000"/>
<line x1="537.20" y1="104.90" x2="537.20" y2="98.90" stroke="#000" stroke-width="1.5"/>
<polygon points="537.20,93.40 540.60,99.40 533.80,99.40" fill="#000"/>
<text x="456.80" y="88.00" font-size="8.8" text-anchor="start" fill="#103830" font-weight="normal" font-style="normal"><tspan font-style="italic">m</tspan><tspan font-style="italic" font-size="6.6" dy="1.7">sen</tspan><tspan dy="-1.7"> = 6</tspan></text>
<text x="460.20" y="121.40" font-size="13.0" text-anchor="start" fill="#111" font-weight="normal" font-style="normal"><tspan font-style="italic" stroke="#111" stroke-width="0.15">f</tspan><tspan font-style="italic" font-size="9.2" dx="0.3" dy="2.6" fill="#06383c">id</tspan></text>
<text x="480.40" y="120.40" font-size="12.6" text-anchor="start" fill="#000" font-weight="normal" font-style="normal"><tspan font-style="italic" >Δf</tspan><tspan font-style="italic" font-size="9.0" dx="0.3" dy="2.8" fill="#06383c">off</tspan></text>
<text x="523.00" y="120.40" font-size="12.6" text-anchor="start" fill="#000" font-weight="normal" font-style="normal"><tspan font-style="italic" >Δf</tspan><tspan font-style="italic" font-size="9.0" dx="0.3" dy="2.8" fill="#06383c">lock</tspan></text>
<line x1="464.80" y1="107.70" x2="469.89" y2="100.16" stroke="#8a7f88" stroke-width="1.1"/>
<polygon points="472.30,96.60 471.68,101.98 467.54,99.18" fill="#8a7f88"/>
<text x="451.40" y="39.30" font-size="8.1" text-anchor="end" fill="#333" font-weight="normal" font-style="normal">4.53</text>
<line x1="453.40" y1="36.50" x2="454.90" y2="36.50" stroke="#1a5050" stroke-width="0.7"/>
<text x="451.40" y="80.40" font-size="8.1" text-anchor="end" fill="#333" font-weight="normal" font-style="normal">4.51</text>
<line x1="453.40" y1="77.60" x2="454.90" y2="77.60" stroke="#1a5050" stroke-width="0.7"/>
<text x="451.40" y="120.30" font-size="8.1" text-anchor="end" fill="#333" font-weight="normal" font-style="normal">4.49</text>
<line x1="453.40" y1="117.50" x2="454.90" y2="117.50" stroke="#1a5050" stroke-width="0.7"/>
<text x="462.60" y="138.90" font-size="7.8" text-anchor="middle" fill="#333" font-weight="normal" font-style="normal">-90</text>
<line x1="463.40" y1="129.20" x2="463.40" y2="127.70" stroke="#1a5050" stroke-width="0.7"/>
<text x="487.80" y="138.90" font-size="7.8" text-anchor="middle" fill="#333" font-weight="normal" font-style="normal">-85</text>
<line x1="488.60" y1="129.20" x2="488.60" y2="127.70" stroke="#1a5050" stroke-width="0.7"/>
<text x="513.00" y="138.90" font-size="7.8" text-anchor="middle" fill="#333" font-weight="normal" font-style="normal">-80</text>
<line x1="513.80" y1="129.20" x2="513.80" y2="127.70" stroke="#1a5050" stroke-width="0.7"/>
<text x="538.20" y="138.90" font-size="7.8" text-anchor="middle" fill="#333" font-weight="normal" font-style="normal">-75</text>
<line x1="539.00" y1="129.20" x2="539.00" y2="127.70" stroke="#1a5050" stroke-width="0.7"/>
<text x="501.80" y="149.00" font-size="10.2" text-anchor="middle" fill="#222" font-weight="normal" font-style="normal"><tspan font-style="italic">P</tspan><tspan font-style="italic" font-size="7.2" dy="1.9">inj</tspan><tspan dy="-1.9"> (dBm)</tspan></text>
<text x="431.60" y="78.00" font-size="12.8" text-anchor="middle" fill="#111" font-weight="normal" font-style="normal" transform="rotate(-90 431.60 78.00)" stroke="#000" stroke-width="0.15"><tspan font-style="italic">f</tspan><tspan font-style="italic" font-size="9.6" dy="2.6">sen</tspan><tspan font-style="normal" dy="-2.6"> (GHz)</tspan></text>
<text x="426.00" y="20.20" font-size="15" text-anchor="start" fill="#000" font-weight="bold" font-style="normal">h</text>
<clipPath id="cliph2"><rect x="453.4" y="165.2" width="100.80000000000007" height="100.0"/></clipPath>
<linearGradient id="bg2" gradientUnits="userSpaceOnUse" x1="453.4" x2="524.5" y1="0" y2="0"><stop offset="0" stop-color="#ffb800"/><stop offset="0.5" stop-color="#ffb800"/><stop offset="0.75" stop-color="#f4ec10" stop-opacity="0.5"/><stop offset="1" stop-color="#b8f060" stop-opacity="0.0"/></linearGradient>
<linearGradient id="bh2" gradientUnits="userSpaceOnUse" x1="453.4" x2="524.5" y1="0" y2="0"><stop offset="0" stop-color="#f4ec10"/><stop offset="0.6" stop-color="#f4ec10"/><stop offset="1" stop-color="#b8f060" stop-opacity="0.0"/></linearGradient>
<g clip-path="url(#cliph2)">
<rect x="453.40" y="165.20" width="100.80" height="100.00" fill="#08bcfc" stroke="none" stroke-width="1"/>
<g filter="url(#bl4)">
<path d="M 423.4 135.2 L 516.5 135.2 Q 536.5 191.5 533.5 231.5 Q 536.5 271.5 516.5 295.2 L 423.4 295.2 Z" fill="#08dcff" stroke="none" stroke-width="1"/>
</g>
<g filter="url(#bl8)">
<path d="M 423.4 135.2 L 494.5 135.2 Q 526.5 191.5 522.5 231.5 Q 526.5 271.5 494.5 295.2 L 423.4 295.2 Z" fill="#08e4ff" stroke="none" stroke-width="1"/>
</g>
<g filter="url(#bl4)" opacity="0.9">
<path d="M 433.4 198.7 C 494.5 198.7 522.5 207.7 521.5 231.5 C 518.5 243.7 484.5 245.7 433.4 245.7 Z" fill="#28fff0" stroke="none" stroke-width="1"/>
</g>
<g filter="url(#bl2)" opacity="0.65">
<path d="M 433.4 208.7 L 484.5 208.7 Q 516.5 211.7 521.5 231.0 Q 514.5 235.7 433.4 236.2 Z" fill="#68ffb8" stroke="none" stroke-width="1"/>
</g>
<g filter="url(#bl2)" opacity="0.45">
<path d="M 433.4 213.2 L 490.5 213.7 Q 514.5 217.7 521.5 231.2 L 433.4 231.7 Z" fill="#b0f870" stroke="none" stroke-width="1"/>
</g>
<g filter="url(#bl2)">
<path d="M 450.4 215.7 L 482.5 216.0 Q 512.5 217.1 524.5 231.5" fill="none" stroke="#b8f060" stroke-width="4.199999999999999"/>
</g>
<g filter="url(#bl1)">
<path d="M 450.4 215.7 L 482.5 216.0 Q 512.5 217.1 524.5 231.5" fill="none" stroke="url(#bh2)" stroke-width="2.38"/>
<path d="M 450.4 215.7 L 482.5 216.0 Q 512.5 217.1 524.5 231.5" fill="none" stroke="url(#bg2)" stroke-width="1.4"/>
</g>
<g filter="url(#bl1)">
<path d="M 450.4 231.7 L 520.5 231.57999999999998 L 524.5 231.5" fill="none" stroke="#f0e020" stroke-width="1.6"/>
<path d="M 521.5 231.5 L 557.2 231.7" fill="none" stroke="#f0e020" stroke-width="1.8"/>
</g>
<path d="M 450.4 231.7 L 520.5 231.57999999999998 L 524.5 231.5" fill="none" stroke="#f0a000" stroke-width="0.8"/>
<path d="M 521.5 231.5 L 557.2 231.7" fill="none" stroke="#f0a000" stroke-width="0.9"/>
<path d="M 450.4 231.7 L 520.5 231.57999999999998 L 524.5 231.5 L 557.2 231.7" fill="none" stroke="#503000" stroke-width="0.8" stroke-dasharray="3 2.4" opacity="0.85"/>
<path d="M 453.4 183.6 L 473.4 183.6 C 494.5 183.6 525.0 197.97 524.5 230.5" fill="none" stroke="#08342c" stroke-width="1.0" stroke-dasharray="3.5 2.6" opacity="0.75"/>
<path d="M 453.4 199.5 L 473.4 199.5 C 494.5 199.5 525.0 209.1 524.5 230.5" fill="none" stroke="#08342c" stroke-width="1.0" stroke-dasharray="3.5 2.6" opacity="0.75"/>
<path d="M 453.4 247.7 L 473.4 247.7 C 494.5 247.7 525.0 242.84 524.5 230.5" fill="none" stroke="#08342c" stroke-width="1.0" stroke-dasharray="3.5 2.6" opacity="0.75"/>
<line x1="453.40" y1="215.70" x2="554.20" y2="215.70" stroke="#0a3a30" stroke-width="0.9" stroke-dasharray="3 2" opacity="0.85"/>
</g>
<rect x="453.40" y="165.20" width="100.80" height="100.00" fill="none" stroke="#2a7c7c" stroke-width="0.9"/>
<line x1="492.20" y1="203.20" x2="492.20" y2="209.40" stroke="#000" stroke-width="1.5"/>
<polygon points="492.20,214.90 488.80,208.90 495.60,208.90" fill="#000"/>
<line x1="492.20" y1="244.20" x2="492.20" y2="238.20" stroke="#000" stroke-width="1.5"/>
<polygon points="492.20,232.70 495.60,238.70 488.80,238.70" fill="#000"/>
<line x1="537.80" y1="203.20" x2="537.80" y2="209.40" stroke="#000" stroke-width="1.5"/>
<polygon points="537.80,214.90 534.40,208.90 541.20,208.90" fill="#000"/>
<line x1="537.80" y1="244.20" x2="537.80" y2="238.20" stroke="#000" stroke-width="1.5"/>
<polygon points="537.80,232.70 541.20,238.70 534.40,238.70" fill="#000"/>
<text x="456.80" y="225.40" font-size="8.8" text-anchor="start" fill="#103830" font-weight="normal" font-style="normal"><tspan font-style="italic">m</tspan><tspan font-style="italic" font-size="6.6" dy="1.7">sen</tspan><tspan dy="-1.7"> = 7</tspan></text>
<text x="464.60" y="259.20" font-size="13.0" text-anchor="start" fill="#c9a03c" font-weight="normal" font-style="normal"><tspan font-style="italic" stroke="#c9a03c" stroke-width="0.15">f</tspan><tspan font-style="italic" font-size="9.2" dx="0.3" dy="2.6" fill="#c9a03c">inj</tspan></text>
<text x="482.80" y="258.20" font-size="12.6" text-anchor="start" fill="#000" font-weight="normal" font-style="normal"><tspan font-style="italic" >Δf</tspan><tspan font-style="italic" font-size="9.0" dx="0.3" dy="2.8" fill="#06383c">off</tspan></text>
<text x="524.20" y="258.20" font-size="12.6" text-anchor="start" fill="#000" font-weight="normal" font-style="normal"><tspan font-style="italic" >Δf</tspan><tspan font-style="italic" font-size="9.0" dx="0.3" dy="2.8" fill="#06383c">lock</tspan></text>
<line x1="472.80" y1="248.20" x2="478.73" y2="238.65" stroke="#8a7f88" stroke-width="1.1"/>
<polygon points="481.00,235.00 480.59,240.40 476.34,237.76" fill="#8a7f88"/>
<text x="451.40" y="179.70" font-size="8.1" text-anchor="end" fill="#333" font-weight="normal" font-style="normal">5.28</text>
<line x1="453.40" y1="176.90" x2="454.90" y2="176.90" stroke="#1a5050" stroke-width="0.7"/>
<text x="451.40" y="220.10" font-size="8.1" text-anchor="end" fill="#333" font-weight="normal" font-style="normal">5.26</text>
<line x1="453.40" y1="217.30" x2="454.90" y2="217.30" stroke="#1a5050" stroke-width="0.7"/>
<text x="451.40" y="259.90" font-size="8.1" text-anchor="end" fill="#333" font-weight="normal" font-style="normal">5.24</text>
<line x1="453.40" y1="257.10" x2="454.90" y2="257.10" stroke="#1a5050" stroke-width="0.7"/>
<text x="462.60" y="275.30" font-size="7.8" text-anchor="middle" fill="#333" font-weight="normal" font-style="normal">-90</text>
<line x1="463.40" y1="265.20" x2="463.40" y2="263.70" stroke="#1a5050" stroke-width="0.7"/>
<text x="487.80" y="275.30" font-size="7.8" text-anchor="middle" fill="#333" font-weight="normal" font-style="normal">-85</text>
<line x1="488.60" y1="265.20" x2="488.60" y2="263.70" stroke="#1a5050" stroke-width="0.7"/>
<text x="513.00" y="275.30" font-size="7.8" text-anchor="middle" fill="#333" font-weight="normal" font-style="normal">-80</text>
<line x1="513.80" y1="265.20" x2="513.80" y2="263.70" stroke="#1a5050" stroke-width="0.7"/>
<text x="538.20" y="275.30" font-size="7.8" text-anchor="middle" fill="#333" font-weight="normal" font-style="normal">-75</text>
<line x1="539.00" y1="265.20" x2="539.00" y2="263.70" stroke="#1a5050" stroke-width="0.7"/>
<text x="501.80" y="284.00" font-size="10.2" text-anchor="middle" fill="#222" font-weight="normal" font-style="normal"><tspan font-style="italic">P</tspan><tspan font-style="italic" font-size="7.2" dy="1.9">inj</tspan><tspan dy="-1.9"> (dBm)</tspan></text>
<text x="431.60" y="214.70" font-size="12.8" text-anchor="middle" fill="#111" font-weight="normal" font-style="normal" transform="rotate(-90 431.60 214.70)" stroke="#000" stroke-width="0.15"><tspan font-style="italic">f</tspan><tspan font-style="italic" font-size="9.6" dy="2.6">sen</tspan><tspan font-style="normal" dy="-2.6"> (GHz)</tspan></text>
<text x="426.00" y="162.80" font-size="15" text-anchor="start" fill="#000" font-weight="bold" font-style="normal">i</text>
<clipPath id="cliph3"><rect x="453.4" y="301.0" width="100.80000000000007" height="100.5"/></clipPath>
<linearGradient id="bg3" gradientUnits="userSpaceOnUse" x1="453.4" x2="524.5" y1="0" y2="0"><stop offset="0" stop-color="#f02800"/><stop offset="0.5" stop-color="#f02800"/><stop offset="0.75" stop-color="#ff8a00" stop-opacity="0.575"/><stop offset="1" stop-color="#f4f018" stop-opacity="0.15"/></linearGradient>
<linearGradient id="bh3" gradientUnits="userSpaceOnUse" x1="453.4" x2="524.5" y1="0" y2="0"><stop offset="0" stop-color="#ff8a00"/><stop offset="0.6" stop-color="#ff8a00"/><stop offset="1" stop-color="#f4f018" stop-opacity="0.15"/></linearGradient>
<g clip-path="url(#cliph3)">
<rect x="453.40" y="301.00" width="100.80" height="100.50" fill="#0cc8fc" stroke="none" stroke-width="1"/>
<g filter="url(#bl4)">
<path d="M 423.4 271.0 L 516.5 271.0 Q 536.5 331.2 533.5 371.2 Q 536.5 411.2 516.5 431.5 L 423.4 431.5 Z" fill="#08f0fc" stroke="none" stroke-width="1"/>
</g>
<g filter="url(#bl8)">
<path d="M 423.4 271.0 L 494.5 271.0 Q 526.5 331.2 522.5 371.2 Q 526.5 411.2 494.5 431.5 L 423.4 431.5 Z" fill="#18f4e8" stroke="none" stroke-width="1"/>
</g>
<g filter="url(#bl4)" opacity="0.9">
<path d="M 433.4 335.0 C 494.5 335.0 522.5 344.0 521.5 371.2 C 518.5 379.2 484.5 381.2 433.4 381.2 Z" fill="#58ffa0" stroke="none" stroke-width="1"/>
</g>
<g filter="url(#bl2)" opacity="0.8">
<path d="M 433.4 345.0 L 484.5 345.0 Q 516.5 348.0 521.5 370.7 Q 514.5 371.2 433.4 371.7 Z" fill="#a0f868" stroke="none" stroke-width="1"/>
</g>
<g filter="url(#bl2)" opacity="0.6">
<path d="M 433.4 349.5 L 490.5 350.0 Q 514.5 354.0 521.5 370.9 L 433.4 367.2 Z" fill="#d0f040" stroke="none" stroke-width="1"/>
</g>
<g filter="url(#bl2)">
<path d="M 450.4 352.0 L 482.5 352.3 Q 512.5 353.4 522.0 357.0" fill="none" stroke="#f4f018" stroke-width="6.0"/>
</g>
<g filter="url(#bl1)">
<path d="M 450.4 352.0 L 482.5 352.3 Q 512.5 353.4 522.0 357.0" fill="none" stroke="url(#bh3)" stroke-width="3.4"/>
<path d="M 450.4 352.0 L 482.5 352.3 Q 512.5 353.4 522.0 357.0" fill="none" stroke="url(#bg3)" stroke-width="2.0"/>
</g>
<path d="M 450.4 352.0 L 494.5 352.3" fill="none" stroke="#7a0000" stroke-width="0.9" stroke-dasharray="3.5 2.5" opacity="0.7"/>
<g filter="url(#bl1)">
<path d="M 450.4 367.2 L 520.5 369.59999999999997 L 524.5 371.2" fill="none" stroke="#f0e020" stroke-width="1.6"/>
<path d="M 521.5 371.2 L 557.2 372.0" fill="none" stroke="#f0e020" stroke-width="1.8"/>
</g>
<path d="M 450.4 367.2 L 520.5 369.59999999999997 L 524.5 371.2" fill="none" stroke="#f08000" stroke-width="0.8"/>
<path d="M 521.5 371.2 L 557.2 372.0" fill="none" stroke="#6a7a86" stroke-width="1.3"/>
<path d="M 450.4 367.2 L 520.5 369.59999999999997 L 524.5 371.2" fill="none" stroke="#503000" stroke-width="0.8" stroke-dasharray="3 2.4" opacity="0.85"/>
<path d="M 453.4 319.2 L 473.4 319.2 C 494.5 319.2 525.0 334.8 524.5 370.2" fill="none" stroke="#08342c" stroke-width="1.0" stroke-dasharray="3.5 2.6" opacity="0.75"/>
<path d="M 453.4 335.2 L 473.4 335.2 C 494.5 335.2 525.0 346.0 524.5 370.2" fill="none" stroke="#08342c" stroke-width="1.0" stroke-dasharray="3.5 2.6" opacity="0.75"/>
<path d="M 453.4 383.0 L 473.4 383.0 C 494.5 383.0 525.0 379.46 524.5 370.2" fill="none" stroke="#08342c" stroke-width="1.0" stroke-dasharray="3.5 2.6" opacity="0.75"/>
<line x1="453.40" y1="352.00" x2="554.20" y2="352.00" stroke="#0a3a30" stroke-width="0.9" stroke-dasharray="3 2" opacity="0.85"/>
</g>
<rect x="453.40" y="301.00" width="100.80" height="100.50" fill="none" stroke="#2a7c7c" stroke-width="0.9"/>
<line x1="488.80" y1="339.50" x2="488.80" y2="345.70" stroke="#000" stroke-width="1.5"/>
<polygon points="488.80,351.20 485.40,345.20 492.20,345.20" fill="#000"/>
<line x1="488.80" y1="379.70" x2="488.80" y2="373.70" stroke="#000" stroke-width="1.5"/>
<polygon points="488.80,368.20 492.20,374.20 485.40,374.20" fill="#000"/>
<line x1="537.20" y1="339.50" x2="537.20" y2="345.70" stroke="#000" stroke-width="1.5"/>
<polygon points="537.20,351.20 533.80,345.20 540.60,345.20" fill="#000"/>
<line x1="537.20" y1="384.50" x2="537.20" y2="378.50" stroke="#000" stroke-width="1.5"/>
<polygon points="537.20,373.00 540.60,379.00 533.80,379.00" fill="#000"/>
<text x="459.00" y="361.60" font-size="8.8" text-anchor="start" fill="#103830" font-weight="normal" font-style="normal"><tspan font-style="italic">m</tspan><tspan font-style="italic" font-size="6.6" dy="1.7">sen</tspan><tspan dy="-1.7"> = 9</tspan></text>
<text x="458.00" y="393.80" font-size="13.0" text-anchor="start" fill="#111" font-weight="normal" font-style="normal"><tspan font-style="italic" stroke="#111" stroke-width="0.15">f</tspan><tspan font-style="italic" font-size="9.2" dx="0.3" dy="2.6" fill="#06383c">id</tspan></text>
<text x="480.40" y="392.80" font-size="12.6" text-anchor="start" fill="#000" font-weight="normal" font-style="normal"><tspan font-style="italic" >Δf</tspan><tspan font-style="italic" font-size="9.0" dx="0.3" dy="2.8" fill="#06383c">off</tspan></text>
<text x="523.00" y="392.80" font-size="12.6" text-anchor="start" fill="#000" font-weight="normal" font-style="normal"><tspan font-style="italic" >Δf</tspan><tspan font-style="italic" font-size="9.0" dx="0.3" dy="2.8" fill="#06383c">lock</tspan></text>
<line x1="460.70" y1="382.50" x2="467.38" y2="373.81" stroke="#8a7f88" stroke-width="1.1"/>
<polygon points="470.00,370.40 469.06,375.73 465.09,372.68" fill="#8a7f88"/>
<text x="451.40" y="322.00" font-size="8.1" text-anchor="end" fill="#333" font-weight="normal" font-style="normal">6.78</text>
<line x1="453.40" y1="319.20" x2="454.90" y2="319.20" stroke="#1a5050" stroke-width="0.7"/>
<text x="451.40" y="362.00" font-size="8.1" text-anchor="end" fill="#333" font-weight="normal" font-style="normal">6.76</text>
<line x1="453.40" y1="359.20" x2="454.90" y2="359.20" stroke="#1a5050" stroke-width="0.7"/>
<text x="451.40" y="401.30" font-size="8.1" text-anchor="end" fill="#333" font-weight="normal" font-style="normal">6.74</text>
<line x1="453.40" y1="398.50" x2="454.90" y2="398.50" stroke="#1a5050" stroke-width="0.7"/>
<text x="462.60" y="410.80" font-size="7.8" text-anchor="middle" fill="#333" font-weight="normal" font-style="normal">-90</text>
<line x1="463.40" y1="401.50" x2="463.40" y2="400.00" stroke="#1a5050" stroke-width="0.7"/>
<text x="487.80" y="410.80" font-size="7.8" text-anchor="middle" fill="#333" font-weight="normal" font-style="normal">-85</text>
<line x1="488.60" y1="401.50" x2="488.60" y2="400.00" stroke="#1a5050" stroke-width="0.7"/>
<text x="513.00" y="410.80" font-size="7.8" text-anchor="middle" fill="#333" font-weight="normal" font-style="normal">-80</text>
<line x1="513.80" y1="401.50" x2="513.80" y2="400.00" stroke="#1a5050" stroke-width="0.7"/>
<text x="538.20" y="410.80" font-size="7.8" text-anchor="middle" fill="#333" font-weight="normal" font-style="normal">-75</text>
<line x1="539.00" y1="401.50" x2="539.00" y2="400.00" stroke="#1a5050" stroke-width="0.7"/>
<text x="501.80" y="420.40" font-size="10.2" text-anchor="middle" fill="#222" font-weight="normal" font-style="normal"><tspan font-style="italic">P</tspan><tspan font-style="italic" font-size="7.2" dy="1.9">inj</tspan><tspan dy="-1.9"> (dBm)</tspan></text>
<text x="431.60" y="350.50" font-size="12.8" text-anchor="middle" fill="#111" font-weight="normal" font-style="normal" transform="rotate(-90 431.60 350.50)" stroke="#000" stroke-width="0.15"><tspan font-style="italic">f</tspan><tspan font-style="italic" font-size="9.6" dy="2.6">sen</tspan><tspan font-style="normal" dy="-2.6"> (GHz)</tspan></text>
<text x="425.00" y="297.00" font-size="15" text-anchor="start" fill="#000" font-weight="bold" font-style="normal">j</text>
<rect x="587.90" y="28.20" width="100.40" height="99.30" fill="none" stroke="#000" stroke-width="1.4"/>
<line x1="587.90" y1="51.40" x2="590.30" y2="51.40" stroke="#000" stroke-width="0.9"/>
<text x="585.40" y="54.40" font-size="8.4" text-anchor="end" fill="#222" font-weight="normal" font-style="normal">10</text>
<line x1="587.90" y1="86.30" x2="590.30" y2="86.30" stroke="#000" stroke-width="0.9"/>
<text x="585.40" y="89.30" font-size="8.4" text-anchor="end" fill="#222" font-weight="normal" font-style="normal">8</text>
<line x1="587.90" y1="120.70" x2="590.30" y2="120.70" stroke="#000" stroke-width="0.9"/>
<text x="585.40" y="123.70" font-size="8.4" text-anchor="end" fill="#222" font-weight="normal" font-style="normal">6</text>
<line x1="587.90" y1="33.95" x2="589.40" y2="33.95" stroke="#000" stroke-width="0.8"/>
<line x1="587.90" y1="51.40" x2="589.40" y2="51.40" stroke="#000" stroke-width="0.8"/>
<line x1="587.90" y1="68.85" x2="589.40" y2="68.85" stroke="#000" stroke-width="0.8"/>
<line x1="587.90" y1="86.30" x2="589.40" y2="86.30" stroke="#000" stroke-width="0.8"/>
<line x1="587.90" y1="103.75" x2="589.40" y2="103.75" stroke="#000" stroke-width="0.8"/>
<line x1="587.90" y1="121.20" x2="589.40" y2="121.20" stroke="#000" stroke-width="0.8"/>
<line x1="688.30" y1="34.20" x2="685.90" y2="34.20" stroke="#000" stroke-width="0.9"/>
<text x="691.00" y="37.50" font-size="9.4" text-anchor="start" fill="#111" font-weight="normal" font-style="normal">10</text>
<line x1="688.30" y1="68.50" x2="685.90" y2="68.50" stroke="#000" stroke-width="0.9"/>
<text x="691.00" y="71.80" font-size="9.4" text-anchor="start" fill="#111" font-weight="normal" font-style="normal">8</text>
<line x1="688.30" y1="103.10" x2="685.90" y2="103.10" stroke="#000" stroke-width="0.9"/>
<text x="691.00" y="106.40" font-size="9.4" text-anchor="start" fill="#111" font-weight="normal" font-style="normal">6</text>
<line x1="688.30" y1="34.20" x2="686.80" y2="34.20" stroke="#000" stroke-width="0.8"/>
<line x1="688.30" y1="51.35" x2="686.80" y2="51.35" stroke="#000" stroke-width="0.8"/>
<line x1="688.30" y1="68.50" x2="686.80" y2="68.50" stroke="#000" stroke-width="0.8"/>
<line x1="688.30" y1="85.65" x2="686.80" y2="85.65" stroke="#000" stroke-width="0.8"/>
<line x1="688.30" y1="102.80" x2="686.80" y2="102.80" stroke="#000" stroke-width="0.8"/>
<line x1="688.30" y1="119.95" x2="686.80" y2="119.95" stroke="#000" stroke-width="0.8"/>
<line x1="597.80" y1="127.50" x2="597.80" y2="125.10" stroke="#000" stroke-width="0.9"/>
<line x1="597.80" y1="28.20" x2="597.80" y2="30.60" stroke="#000" stroke-width="0.9"/>
<text x="597.80" y="136.80" font-size="8.4" text-anchor="middle" fill="#222" font-weight="normal" font-style="normal">6</text>
<line x1="617.95" y1="127.50" x2="617.95" y2="125.10" stroke="#000" stroke-width="0.9"/>
<line x1="617.95" y1="28.20" x2="617.95" y2="30.60" stroke="#000" stroke-width="0.9"/>
<text x="617.95" y="136.80" font-size="8.4" text-anchor="middle" fill="#222" font-weight="normal" font-style="normal">7</text>
<line x1="638.10" y1="127.50" x2="638.10" y2="125.10" stroke="#000" stroke-width="0.9"/>
<line x1="638.10" y1="28.20" x2="638.10" y2="30.60" stroke="#000" stroke-width="0.9"/>
<text x="638.10" y="136.80" font-size="8.4" text-anchor="middle" fill="#222" font-weight="normal" font-style="normal">8</text>
<line x1="658.20" y1="127.50" x2="658.20" y2="125.10" stroke="#000" stroke-width="0.9"/>
<line x1="658.20" y1="28.20" x2="658.20" y2="30.60" stroke="#000" stroke-width="0.9"/>
<text x="658.20" y="136.80" font-size="8.4" text-anchor="middle" fill="#222" font-weight="normal" font-style="normal">9</text>
<line x1="678.35" y1="127.50" x2="678.35" y2="125.10" stroke="#000" stroke-width="0.9"/>
<line x1="678.35" y1="28.20" x2="678.35" y2="30.60" stroke="#000" stroke-width="0.9"/>
<text x="678.35" y="136.80" font-size="8.4" text-anchor="middle" fill="#222" font-weight="normal" font-style="normal">10</text>
<line x1="607.87" y1="127.50" x2="607.87" y2="126.00" stroke="#000" stroke-width="0.8"/>
<line x1="607.87" y1="28.20" x2="607.87" y2="29.70" stroke="#000" stroke-width="0.8"/>
<line x1="628.02" y1="127.50" x2="628.02" y2="126.00" stroke="#000" stroke-width="0.8"/>
<line x1="628.02" y1="28.20" x2="628.02" y2="29.70" stroke="#000" stroke-width="0.8"/>
<line x1="648.17" y1="127.50" x2="648.17" y2="126.00" stroke="#000" stroke-width="0.8"/>
<line x1="648.17" y1="28.20" x2="648.17" y2="29.70" stroke="#000" stroke-width="0.8"/>
<line x1="668.27" y1="127.50" x2="668.27" y2="126.00" stroke="#000" stroke-width="0.8"/>
<line x1="668.27" y1="28.20" x2="668.27" y2="29.70" stroke="#000" stroke-width="0.8"/>
<text x="638.60" y="148.60" font-size="12" text-anchor="middle" fill="#222" font-weight="normal" font-style="normal"><tspan font-style="italic" font-size="10.4">m</tspan><tspan font-style="italic" font-size="12" dy="2.6">sen</tspan></text>
<text x="574.40" y="75.50" font-size="11.0" text-anchor="middle" fill="#f00000" font-weight="normal" font-style="normal" transform="rotate(-90 574.40 75.50)"><tspan font-style="italic" font-size="8.8" font-weight="bold">Δf</tspan><tspan font-style="italic" font-size="12.2" dy="2.3">inj</tspan><tspan dy="-2.3"> (MHz)</tspan></text>
<text x="571.00" y="20.20" font-size="15" text-anchor="start" fill="#000" font-weight="bold" font-style="normal">k</text>
<text x="707.20" y="75.50" font-size="11.0" text-anchor="middle" fill="#1020f0" font-weight="normal" font-style="normal" transform="rotate(-90 707.20 75.50)"><tspan font-style="italic" font-size="8.8" font-weight="bold">Δf</tspan><tspan font-style="italic" font-size="12.2" dy="2.3">off</tspan><tspan dy="-2.3"> (MHz)</tspan></text>
<polyline points="597.8,71.4 618.0,68.9 638.1,68.2 658.2,66.6 678.4,67.6" fill="none" stroke="#666" stroke-width="0.8"/>
<rect x="595.80" y="69.40" width="4.00" height="4.00" fill="#fff" stroke="#1020f0" stroke-width="1.3"/>
<rect x="615.95" y="66.90" width="4.00" height="4.00" fill="#fff" stroke="#1020f0" stroke-width="1.3"/>
<rect x="636.10" y="66.20" width="4.00" height="4.00" fill="#fff" stroke="#1020f0" stroke-width="1.3"/>
<rect x="656.20" y="64.60" width="4.00" height="4.00" fill="#fff" stroke="#1020f0" stroke-width="1.3"/>
<rect x="676.35" y="65.60" width="4.00" height="4.00" fill="#fff" stroke="#1020f0" stroke-width="1.3"/>
<line x1="597.80" y1="84.90" x2="678.35" y2="84.90" stroke="#f00000" stroke-width="1.2" stroke-dasharray="2.4 1.5"/>
<circle cx="597.8" cy="84.9" r="2.1" fill="#fff" stroke="#f00000" stroke-width="1.3"/>
<circle cx="618.0" cy="84.9" r="2.1" fill="#fff" stroke="#f00000" stroke-width="1.3"/>
<circle cx="638.1" cy="84.9" r="2.1" fill="#fff" stroke="#f00000" stroke-width="1.3"/>
<circle cx="658.2" cy="84.9" r="2.1" fill="#fff" stroke="#f00000" stroke-width="1.3"/>
<circle cx="678.4" cy="84.9" r="2.1" fill="#fff" stroke="#f00000" stroke-width="1.3"/>
<rect x="587.90" y="164.40" width="100.40" height="99.20" fill="none" stroke="#000" stroke-width="1.4"/>
<line x1="587.90" y1="196.30" x2="590.30" y2="196.30" stroke="#000" stroke-width="0.9"/>
<line x1="688.30" y1="196.30" x2="685.90" y2="196.30" stroke="#000" stroke-width="0.9"/>
<text x="585.40" y="199.30" font-size="8.4" text-anchor="end" fill="#222" font-weight="normal" font-style="normal">10</text>
<line x1="587.90" y1="231.00" x2="590.30" y2="231.00" stroke="#000" stroke-width="0.9"/>
<line x1="688.30" y1="231.00" x2="685.90" y2="231.00" stroke="#000" stroke-width="0.9"/>
<text x="585.40" y="234.00" font-size="8.4" text-anchor="end" fill="#222" font-weight="normal" font-style="normal">8</text>
<line x1="587.90" y1="178.95" x2="589.40" y2="178.95" stroke="#000" stroke-width="0.8"/>
<line x1="688.30" y1="178.95" x2="686.80" y2="178.95" stroke="#000" stroke-width="0.8"/>
<line x1="587.90" y1="196.30" x2="589.40" y2="196.30" stroke="#000" stroke-width="0.8"/>
<line x1="688.30" y1="196.30" x2="686.80" y2="196.30" stroke="#000" stroke-width="0.8"/>
<line x1="587.90" y1="213.65" x2="589.40" y2="213.65" stroke="#000" stroke-width="0.8"/>
<line x1="688.30" y1="213.65" x2="686.80" y2="213.65" stroke="#000" stroke-width="0.8"/>
<line x1="587.90" y1="231.00" x2="589.40" y2="231.00" stroke="#000" stroke-width="0.8"/>
<line x1="688.30" y1="231.00" x2="686.80" y2="231.00" stroke="#000" stroke-width="0.8"/>
<line x1="587.90" y1="248.35" x2="589.40" y2="248.35" stroke="#000" stroke-width="0.8"/>
<line x1="688.30" y1="248.35" x2="686.80" y2="248.35" stroke="#000" stroke-width="0.8"/>
<line x1="597.80" y1="263.60" x2="597.80" y2="261.20" stroke="#000" stroke-width="0.9"/>
<line x1="597.80" y1="164.40" x2="597.80" y2="166.80" stroke="#000" stroke-width="0.9"/>
<text x="597.80" y="272.60" font-size="8.4" text-anchor="middle" fill="#222" font-weight="normal" font-style="normal">6</text>
<line x1="617.95" y1="263.60" x2="617.95" y2="261.20" stroke="#000" stroke-width="0.9"/>
<line x1="617.95" y1="164.40" x2="617.95" y2="166.80" stroke="#000" stroke-width="0.9"/>
<text x="617.95" y="272.60" font-size="8.4" text-anchor="middle" fill="#222" font-weight="normal" font-style="normal">7</text>
<line x1="638.10" y1="263.60" x2="638.10" y2="261.20" stroke="#000" stroke-width="0.9"/>
<line x1="638.10" y1="164.40" x2="638.10" y2="166.80" stroke="#000" stroke-width="0.9"/>
<text x="638.10" y="272.60" font-size="8.4" text-anchor="middle" fill="#222" font-weight="normal" font-style="normal">8</text>
<line x1="658.20" y1="263.60" x2="658.20" y2="261.20" stroke="#000" stroke-width="0.9"/>
<line x1="658.20" y1="164.40" x2="658.20" y2="166.80" stroke="#000" stroke-width="0.9"/>
<text x="658.20" y="272.60" font-size="8.4" text-anchor="middle" fill="#222" font-weight="normal" font-style="normal">9</text>
<line x1="678.35" y1="263.60" x2="678.35" y2="261.20" stroke="#000" stroke-width="0.9"/>
<line x1="678.35" y1="164.40" x2="678.35" y2="166.80" stroke="#000" stroke-width="0.9"/>
<text x="678.35" y="272.60" font-size="8.4" text-anchor="middle" fill="#222" font-weight="normal" font-style="normal">10</text>
<line x1="607.87" y1="263.60" x2="607.87" y2="262.10" stroke="#000" stroke-width="0.8"/>
<line x1="607.87" y1="164.40" x2="607.87" y2="165.90" stroke="#000" stroke-width="0.8"/>
<line x1="628.02" y1="263.60" x2="628.02" y2="262.10" stroke="#000" stroke-width="0.8"/>
<line x1="628.02" y1="164.40" x2="628.02" y2="165.90" stroke="#000" stroke-width="0.8"/>
<line x1="648.17" y1="263.60" x2="648.17" y2="262.10" stroke="#000" stroke-width="0.8"/>
<line x1="648.17" y1="164.40" x2="648.17" y2="165.90" stroke="#000" stroke-width="0.8"/>
<line x1="668.27" y1="263.60" x2="668.27" y2="262.10" stroke="#000" stroke-width="0.8"/>
<line x1="668.27" y1="164.40" x2="668.27" y2="165.90" stroke="#000" stroke-width="0.8"/>
<text x="638.60" y="285.40" font-size="12" text-anchor="middle" fill="#222" font-weight="normal" font-style="normal"><tspan font-style="italic" font-size="10.4">m</tspan><tspan font-style="italic" font-size="12" dy="2.6">sen</tspan></text>
<text x="574.40" y="213.50" font-size="11.0" text-anchor="middle" fill="#222" font-weight="normal" font-style="normal" transform="rotate(-90 574.40 213.50)"><tspan font-style="italic" font-size="8.8" font-weight="bold">Δf</tspan><tspan font-style="italic" font-size="12.2" dy="2.3">sen</tspan><tspan dy="-2.3"> (MHz)</tspan></text>
<text x="571.00" y="163.00" font-size="15" text-anchor="start" fill="#000" font-weight="bold" font-style="normal">l</text>
<polyline points="597.8,248.8 618.0,229.2 638.1,209.3 658.2,189.5 678.4,169.9" fill="none" stroke="#f00000" stroke-width="1.2" stroke-dasharray="2.4 1.5"/>
<polygon points="597.8,246.2 600.4,250.5 595.2,250.5" fill="#fff" stroke="#f00000" stroke-width="1.3"/>
<polygon points="618.0,226.6 620.6,230.9 615.4,230.9" fill="#fff" stroke="#f00000" stroke-width="1.3"/>
<polygon points="638.1,206.7 640.7,211.0 635.5,211.0" fill="#fff" stroke="#f00000" stroke-width="1.3"/>
<polygon points="658.2,186.9 660.8,191.2 655.6,191.2" fill="#fff" stroke="#f00000" stroke-width="1.3"/>
<polygon points="678.4,167.3 681.0,171.6 675.8,171.6" fill="#fff" stroke="#f00000" stroke-width="1.3"/>
<rect x="587.90" y="300.60" width="100.40" height="99.60" fill="none" stroke="#000" stroke-width="1.4"/>
<line x1="587.90" y1="332.80" x2="590.30" y2="332.80" stroke="#000" stroke-width="0.9"/>
<line x1="688.30" y1="332.80" x2="685.90" y2="332.80" stroke="#000" stroke-width="0.9"/>
<text x="585.40" y="335.80" font-size="8.4" text-anchor="end" fill="#222" font-weight="normal" font-style="normal">10</text>
<line x1="587.90" y1="367.70" x2="590.30" y2="367.70" stroke="#000" stroke-width="0.9"/>
<line x1="688.30" y1="367.70" x2="685.90" y2="367.70" stroke="#000" stroke-width="0.9"/>
<text x="585.40" y="370.70" font-size="8.4" text-anchor="end" fill="#222" font-weight="normal" font-style="normal">8</text>
<line x1="587.90" y1="315.35" x2="589.40" y2="315.35" stroke="#000" stroke-width="0.8"/>
<line x1="688.30" y1="315.35" x2="686.80" y2="315.35" stroke="#000" stroke-width="0.8"/>
<line x1="587.90" y1="332.80" x2="589.40" y2="332.80" stroke="#000" stroke-width="0.8"/>
<line x1="688.30" y1="332.80" x2="686.80" y2="332.80" stroke="#000" stroke-width="0.8"/>
<line x1="587.90" y1="350.25" x2="589.40" y2="350.25" stroke="#000" stroke-width="0.8"/>
<line x1="688.30" y1="350.25" x2="686.80" y2="350.25" stroke="#000" stroke-width="0.8"/>
<line x1="587.90" y1="367.70" x2="589.40" y2="367.70" stroke="#000" stroke-width="0.8"/>
<line x1="688.30" y1="367.70" x2="686.80" y2="367.70" stroke="#000" stroke-width="0.8"/>
<line x1="587.90" y1="385.15" x2="589.40" y2="385.15" stroke="#000" stroke-width="0.8"/>
<line x1="688.30" y1="385.15" x2="686.80" y2="385.15" stroke="#000" stroke-width="0.8"/>
<line x1="597.80" y1="400.20" x2="597.80" y2="397.80" stroke="#000" stroke-width="0.9"/>
<line x1="597.80" y1="300.60" x2="597.80" y2="303.00" stroke="#000" stroke-width="0.9"/>
<text x="597.80" y="409.40" font-size="8.4" text-anchor="middle" fill="#222" font-weight="normal" font-style="normal">6</text>
<line x1="617.95" y1="400.20" x2="617.95" y2="397.80" stroke="#000" stroke-width="0.9"/>
<line x1="617.95" y1="300.60" x2="617.95" y2="303.00" stroke="#000" stroke-width="0.9"/>
<text x="617.95" y="409.40" font-size="8.4" text-anchor="middle" fill="#222" font-weight="normal" font-style="normal">7</text>
<line x1="638.10" y1="400.20" x2="638.10" y2="397.80" stroke="#000" stroke-width="0.9"/>
<line x1="638.10" y1="300.60" x2="638.10" y2="303.00" stroke="#000" stroke-width="0.9"/>
<text x="638.10" y="409.40" font-size="8.4" text-anchor="middle" fill="#222" font-weight="normal" font-style="normal">8</text>
<line x1="658.20" y1="400.20" x2="658.20" y2="397.80" stroke="#000" stroke-width="0.9"/>
<line x1="658.20" y1="300.60" x2="658.20" y2="303.00" stroke="#000" stroke-width="0.9"/>
<text x="658.20" y="409.40" font-size="8.4" text-anchor="middle" fill="#222" font-weight="normal" font-style="normal">9</text>
<line x1="678.35" y1="400.20" x2="678.35" y2="397.80" stroke="#000" stroke-width="0.9"/>
<line x1="678.35" y1="300.60" x2="678.35" y2="303.00" stroke="#000" stroke-width="0.9"/>
<text x="678.35" y="409.40" font-size="8.4" text-anchor="middle" fill="#222" font-weight="normal" font-style="normal">10</text>
<line x1="607.87" y1="400.20" x2="607.87" y2="398.70" stroke="#000" stroke-width="0.8"/>
<line x1="607.87" y1="300.60" x2="607.87" y2="302.10" stroke="#000" stroke-width="0.8"/>
<line x1="628.02" y1="400.20" x2="628.02" y2="398.70" stroke="#000" stroke-width="0.8"/>
<line x1="628.02" y1="300.60" x2="628.02" y2="302.10" stroke="#000" stroke-width="0.8"/>
<line x1="648.17" y1="400.20" x2="648.17" y2="398.70" stroke="#000" stroke-width="0.8"/>
<line x1="648.17" y1="300.60" x2="648.17" y2="302.10" stroke="#000" stroke-width="0.8"/>
<line x1="668.27" y1="400.20" x2="668.27" y2="398.70" stroke="#000" stroke-width="0.8"/>
<line x1="668.27" y1="300.60" x2="668.27" y2="302.10" stroke="#000" stroke-width="0.8"/>
<text x="638.60" y="422.20" font-size="12" text-anchor="middle" fill="#222" font-weight="normal" font-style="normal"><tspan font-style="italic" font-size="10.4">m</tspan><tspan font-style="italic" font-size="12" dy="2.6">sen</tspan></text>
<text x="574.40" y="350.50" font-size="11.0" text-anchor="middle" fill="#222" font-weight="normal" font-style="normal" transform="rotate(-90 574.40 350.50)"><tspan font-style="italic" font-size="8.8" font-weight="bold">Δf</tspan><tspan font-style="italic" font-size="12.2" dy="2.3">lock</tspan><tspan dy="-2.3"> (MHz)</tspan></text>
<text x="571.00" y="296.00" font-size="15" text-anchor="start" fill="#000" font-weight="bold" font-style="normal">m</text>
<polyline points="597.8,386.2 618.0,367.2 638.1,348.3 658.2,328.3 678.4,308.0" fill="none" stroke="#1020f0" stroke-width="1.2" stroke-dasharray="2.4 1.5"/>
<polygon points="597.8,383.6 600.4,387.9 595.2,387.9" fill="#fff" stroke="#1020f0" stroke-width="1.3"/>
<polygon points="618.0,364.6 620.6,368.9 615.4,368.9" fill="#fff" stroke="#1020f0" stroke-width="1.3"/>
<polygon points="638.1,345.7 640.7,350.0 635.5,350.0" fill="#fff" stroke="#1020f0" stroke-width="1.3"/>
<polygon points="658.2,325.7 660.8,330.0 655.6,330.0" fill="#fff" stroke="#1020f0" stroke-width="1.3"/>
<polygon points="678.4,305.4 681.0,309.7 675.8,309.7" fill="#fff" stroke="#1020f0" stroke-width="1.3"/>
</svg>
</body></html>
